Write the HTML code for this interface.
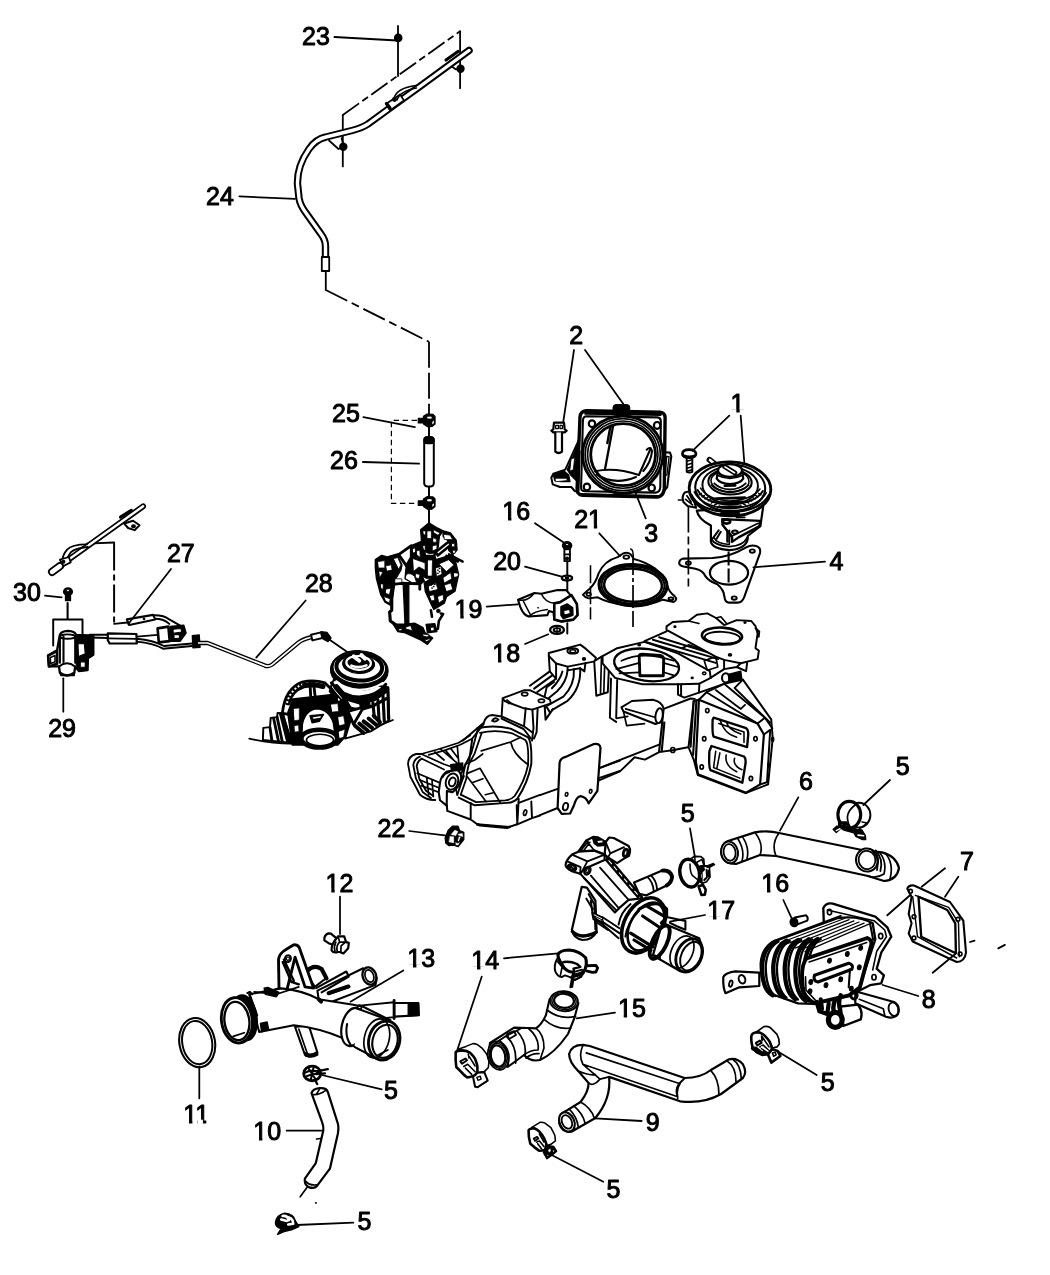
<!DOCTYPE html>
<html><head><meta charset="utf-8"><title>EGR system parts diagram</title>
<style>
html,body{margin:0;padding:0;background:#fff;}
body{width:1050px;height:1275px;overflow:hidden;font-family:"Liberation Sans",sans-serif;}
svg{display:block;}
svg text{font-family:"Liberation Sans",sans-serif;fill:#000;stroke:#000;stroke-width:1.0;}
</style></head><body>
<svg width="1050" height="1275" viewBox="0 0 1050 1275" stroke="#000" fill="none" stroke-linecap="round" stroke-linejoin="round">
<defs><filter id="gs" x="0" y="0" width="100%" height="100%" filterUnits="userSpaceOnUse"><feColorMatrix type="saturate" values="0"/></filter></defs>
<rect x="0" y="0" width="1050" height="1275" fill="#fff" stroke="none"/>
<line x1="398.0" y1="26.0" x2="398.0" y2="76.0" stroke-width="1.82" />
<circle cx="398.2" cy="37.9" r="3.4" stroke-width="1.82" fill="#000"/>
<line x1="342.8" y1="115.0" x2="460.1" y2="31.2" stroke-width="1.82" stroke-dasharray="20 4 7 4" stroke-linecap="butt" />
<line x1="460.1" y1="31.2" x2="460.1" y2="88.3" stroke-width="1.82" />
<circle cx="460.5" cy="68.7" r="3.3" stroke-width="1.82" fill="#000"/>
<line x1="342.8" y1="115.0" x2="342.8" y2="166.4" stroke-width="1.82" />
<circle cx="343.3" cy="146.8" r="3.3" stroke-width="1.82" fill="#000"/>
<path d="M329.0,140.5 L338.5,149.0 L344.0,147.0 L341.5,138.0" stroke-width="1.69" fill="none" />
<path d="M449.0,64.5 L456.0,69.5 L461.0,68.0" stroke-width="1.69" fill="none" />
<path d="M469,50.5 L420.5,86 L392,106.5 L368,124 Q362,128 352,130.5 L326,137 Q316,139 309,149 Q297,166 297.5,184 L299,198 Q300,205 306,213 L321,234 Q325.5,240 325.5,246 L325.5,259" stroke="#000" stroke-width="7.4" fill="none" stroke-linecap="round"/>
<path d="M469,50.5 L420.5,86 L392,106.5 L368,124 Q362,128 352,130.5 L326,137 Q316,139 309,149 Q297,166 297.5,184 L299,198 Q300,205 306,213 L321,234 Q325.5,240 325.5,246 L325.5,259" stroke="#fff" stroke-width="3.4" fill="none" stroke-linecap="round"/>
<rect x="321.8" y="257" width="7.4" height="14" fill="#fff" stroke="#000" stroke-width="1.8"/>
<path d="M386.0,104.0 L390.0,110.5 L404.0,100.5 L400.0,94.5 Z" stroke-width="1.69" fill="#fff" />
<path d="M390,108 L386.5,103.5" stroke-width="3.38" fill="none" />
<path d="M394,98 Q397,88 416,85.5 M397,100 Q400,91 416.5,88" stroke-width="1.56" fill="none" />
<circle cx="394.5" cy="99.5" r="1.8" stroke-width="1.30" fill="#000"/>
<path d="M446,60 L458,51.5" stroke-width="3.12" fill="none" />
<line x1="325.8" y1="271.0" x2="325.8" y2="290.0" stroke-width="1.82" />
<line x1="325.8" y1="290.0" x2="429.0" y2="341.8" stroke-width="1.82" stroke-dasharray="24 5 8 5" stroke-linecap="butt" />
<line x1="429.0" y1="341.8" x2="429.0" y2="414.0" stroke-width="1.82" stroke-dasharray="26 5" stroke-linecap="butt" />
<line x1="429.0" y1="414.0" x2="429.0" y2="523.5" stroke-width="1.95" />
<path d="M423.5,416.4 L427.0,414.1 L433.0,414.4 L435.0,416.4 L435.0,423.9 L432.0,426.4 L428.0,426.9 L423.5,423.9 Z" stroke-width="1.30" fill="#000" />
<path d="M418.2,418.2 L424.0,418.2 L424.0,423.0 L418.2,423.0 Z" stroke-width="1.04" fill="#000" />
<ellipse cx="429.5" cy="417.6" rx="2.6" ry="1.2" stroke-width="0.13" fill="#fff"/>
<path d="M432.2,421.9 L434.0,420.6 L434.0,422.9 L432.2,424.4 Z" stroke-width="0.13" fill="#fff" />
<path d="M423.5,499.0 L427.0,496.7 L433.0,497.0 L435.0,499.0 L435.0,506.5 L432.0,509.0 L428.0,509.5 L423.5,506.5 Z" stroke-width="1.30" fill="#000" />
<path d="M418.2,500.8 L424.0,500.8 L424.0,505.6 L418.2,505.6 Z" stroke-width="1.04" fill="#000" />
<ellipse cx="429.5" cy="500.2" rx="2.6" ry="1.2" stroke-width="0.13" fill="#fff"/>
<path d="M432.2,504.5 L434.0,503.2 L434.0,505.5 L432.2,507.0 Z" stroke-width="0.13" fill="#fff" />
<path d="M417.0,420.4 L391.4,420.4 L391.4,503.3 L417.0,503.3" stroke-width="1.23" fill="none" stroke-dasharray="5.4 3.6" stroke-linecap="butt" />
<rect x="424.2" y="437" width="9.6" height="49.5" rx="3.5" ry="3" fill="#fff" stroke="#000" stroke-width="2"/>
<rect x="424.2" y="437" width="9.6" height="6.5" rx="3" ry="2.5" fill="#000" stroke="#000" stroke-width="1.5"/>
<path d="M 428.8 522.9 L 437.8 528.2 L 450.5 533.0 L 456.3 540.4 L 457.4 550.0 L 454.7 559.5 L 458.5 574.3 L 454.7 591.3 L 446.3 596.6 L 444.2 602.9 L 433.6 609.3 L 431.4 616.7 L 433.6 624.1 L 436.7 631.5 L 432.5 637.9 L 427.2 644.2 L 420.8 640.0 L 405.0 632.6 L 397.5 631.5 L 391.2 620.9 L 390.1 605.0 L 380.6 594.4 L 376.4 578.6 L 375.3 559.5 L 381.7 555.3 L 389.1 557.4 L 398.6 554.7 L 411.3 545.7 L 420.8 541.5 L 420.8 529.8 Z" stroke-width="0.13" fill="#fff" stroke="none"/>
<path d="M 428.8 522.9 L 437.8 528.2 L 443.1 530.9 L 439.4 536.2 L 438.3 546.8 L 434.8 555.5 L 425.1 555.5 L 421.9 546.8 L 420.6 529.8 Z" stroke-width="1.30" fill="#000" />
<path d="M 427.2 530.9 L 431.4 530.9 L 431.4 538.5 L 427.2 538.5 Z" stroke-width="0.78" fill="#fff" />
<path d="M 433.6 529.8 L 440.1 533.0 L 438.0 535.3 L 433.6 532.6 Z" stroke-width="0.78" fill="#fff" />
<path d="M 423.0 530.9 L 425.6 530.9 L 425.6 535.1 L 423.5 534.6 Z" stroke-width="0.78" fill="#fff" />
<path d="M 432.5 545.9 L 436.9 544.7 L 436.9 548.9 L 432.5 551.0 Z" stroke-width="0.78" fill="#fff" />
<path d="M 425.1 552.1 Q 429.3 554.7 433.8 553.1 L 433.8 555.7 L 426.1 555.5 Z" stroke-width="0.78" fill="#fff" />
<path d="M 423.0 545.7 L 425.1 545.2 L 425.3 550.0 L 423.5 550.0 Z" stroke-width="0.78" fill="#fff" />
<path d="M 433.1 537.8 Q 436.7 537.8 436.9 541.5 Q 435.1 543.1 433.0 542.0 Z" stroke-width="0.78" fill="#fff" />
<path d="M 443.1 530.9 L 450.5 533.0 L 456.3 540.4 L 457.1 550.0 L 452.8 554.4 L 448.6 550.2 L 449.1 541.7 L 443.1 536.2 Z" stroke-width="1.30" fill="#000" />
<path d="M 443.6 534.3 L 450.0 535.1 L 452.8 539.6 L 444.7 539.6 Z" stroke-width="0.78" fill="#fff" />
<path d="M 451.6 543.6 L 454.7 543.6 L 454.7 546.8 L 451.8 546.8 Z" stroke-width="0.78" fill="#fff" />
<path d="M 452.6 550.5 L 455.3 550.0 L 455.3 553.1 L 453.2 553.3 Z" stroke-width="0.78" fill="#fff" />
<path d="M 435.7 552.1 L 448.9 541.5 L 450.7 544.9 L 437.8 555.5 Z" stroke-width="2.60" fill="#fff" />
<path d="M 448.9 554.2 L 462.7 561.6 M 446.3 555.8 L 457.9 561.6" stroke-width="2.34" fill="none" />
<path d="M 411.3 545.7 L 420.8 541.5 L 421.9 546.8 L 425.1 555.5 L 434.8 555.5 L 435.9 559.5 L 433.8 576.7 L 427.2 578.8 L 420.8 584.1 L 412.4 583.0 L 405.0 578.8 L 406.2 565.8 L 411.3 557.4 Z" stroke-width="1.30" fill="#000" />
<path d="M 412.9 558.6 L 425.1 562.9 L 425.1 570.3 L 418.9 566.9 L 413.6 571.4 Z" stroke-width="0.78" fill="#fff" />
<path d="M 427.7 560.0 L 432.5 560.0 L 432.1 576.1 L 427.7 576.1 Z" stroke-width="0.78" fill="#fff" />
<path d="M 415.6 573.5 L 420.0 574.5 L 418.9 578.8 L 415.6 577.7 Z" stroke-width="0.78" fill="#fff" />
<path d="M 412.4 548.9 L 415.0 547.8 L 415.6 552.1 L 412.9 553.1 Z" stroke-width="0.78" fill="#fff" />
<path d="M 416.6 551.0 L 419.8 550.0 L 420.3 557.4 L 417.1 555.3 Z" stroke-width="0.78" fill="#fff" />
<path d="M 406.5 574.3 Q 410.3 572.2 414.5 576.4 L 416.6 582.8 L 412.4 582.8 L 405.5 578.6 Z" stroke-width="0.78" fill="#fff" />
<path d="M 423.0 576.4 Q 427.2 580.1 431.4 578.0 L 432.0 581.2 L 425.1 581.7 Z" stroke-width="0.78" fill="#fff" />
<path d="M 435.9 559.5 L 452.8 554.4 L 455.0 559.5 L 458.7 574.3 L 455.0 591.3 L 446.5 596.8 L 444.4 603.1 L 433.8 609.5 L 430.6 603.1 L 425.3 591.5 L 424.2 583.0 L 433.8 576.7 Z" stroke-width="1.30" fill="#000" />
<path d="M 439.1 563.9 L 448.6 559.7 L 453.9 565.0 L 446.5 571.4 Z" stroke-width="0.78" fill="#fff" />
<path d="M 443.1 577.7 L 450.7 572.4 L 451.8 578.8 L 444.4 583.0 Z" stroke-width="0.78" fill="#fff" />
<path d="M 444.4 585.1 L 450.7 583.0 L 452.8 589.4 L 446.5 591.5 Z" stroke-width="0.78" fill="#fff" />
<path d="M 428.5 586.2 L 435.9 583.0 L 438.0 589.4 L 429.5 591.5 Z" stroke-width="0.78" fill="#fff" />
<path d="M 429.5 595.7 L 433.8 594.7 L 434.8 600.0 L 431.7 601.0 Z" stroke-width="0.78" fill="#fff" />
<path d="M 435.7 568.0 L 441.0 566.4 L 442.0 574.3 L 436.7 576.4 Z" stroke-width="0.78" fill="#fff" />
<path d="M 453.7 572.7 L 458.5 573.3 L 457.9 576.4 L 454.2 577.5 Z" stroke-width="0.78" fill="#fff" />
<path d="M 437.8 596.6 L 443.1 594.4 L 443.6 599.7 L 438.9 602.9 Z" stroke-width="0.78" fill="#fff" />
<circle cx="437.8" cy="570.1" r="0.6" stroke-width="0.39" fill="#000"/>
<circle cx="439.4" cy="571.7" r="0.6" stroke-width="0.39" fill="#000"/>
<circle cx="437.8" cy="573.3" r="0.6" stroke-width="0.39" fill="#000"/>
<circle cx="439.4" cy="568.5" r="0.6" stroke-width="0.39" fill="#000"/>
<circle cx="431.4" cy="584.9" r="0.6" stroke-width="0.39" fill="#000"/>
<circle cx="433.6" cy="586.5" r="0.6" stroke-width="0.39" fill="#000"/>
<circle cx="432.0" cy="588.1" r="0.6" stroke-width="0.39" fill="#000"/>
<circle cx="434.6" cy="584.4" r="0.6" stroke-width="0.39" fill="#000"/>
<path d="M 375.3 559.5 L 381.7 555.3 L 389.1 557.4 L 397.8 556.3 L 402.0 564.8 L 400.9 570.1 L 395.6 578.8 L 394.6 585.1 L 393.0 595.7 L 390.3 605.3 L 385.0 602.1 L 380.6 594.4 L 376.4 578.6 L 375.3 568.0 Z" stroke-width="1.30" fill="#000" />
<path d="M 377.9 561.6 L 384.8 560.6 L 384.8 568.0 L 378.5 568.0 Z" stroke-width="0.78" fill="#fff" />
<path d="M 379.0 571.1 L 382.9 572.2 L 379.7 577.7 Z" stroke-width="0.78" fill="#fff" />
<path d="M 393.5 558.6 L 397.8 557.6 L 400.9 564.8 L 398.8 569.2 Z" stroke-width="0.78" fill="#fff" />
<path d="M 385.9 565.8 L 391.2 564.8 L 392.2 570.1 L 386.9 571.1 Z" stroke-width="0.78" fill="#fff" />
<path d="M 385.9 589.2 L 391.2 588.1 L 389.3 594.7 L 385.9 593.4 Z" stroke-width="0.78" fill="#fff" />
<path d="M 383.8 596.6 L 390.1 598.7 L 389.6 602.9 L 385.9 601.3 Z" stroke-width="0.78" fill="#fff" />
<path d="M 380.6 583.9 L 383.2 583.9 L 383.2 589.2 L 381.1 588.6 Z" stroke-width="0.78" fill="#fff" />
<path d="M 395.1 578.8 L 401.8 578.8 L 401.8 583.0 L 395.1 584.1 Z" stroke-width="0.78" fill="#fff" />
<path d="M 398.6 554.7 L 411.3 545.7 L 411.3 557.4 L 406.5 565.8 Z" stroke-width="2.86" fill="#fff" />
<path d="M 389.1 557.4 L 398.6 554.7" stroke-width="3.38" fill="none" />
<path d="M 392.8 584.4 L 401.8 583.3 L 419.8 583.9 L 419.8 589.2" stroke-width="2.86" fill="none" />
<path d="M 391.9 584.9 L 391.7 610.3 L 389.6 611.9 L 390.3 620.9 L 395.4 624.6" stroke-width="3.12" fill="none" />
<path d="M 403.1 582.8 L 408.8 582.8 L 408.8 624.1 L 405.0 624.1 L 404.1 604.0 Z" stroke-width="1.30" fill="#000" />
<path d="M 391.2 620.9 L 395.4 624.1 L 405.0 624.1 L 414.5 623.1 L 423.0 627.5 L 425.1 632.8 L 432.7 638.1 L 427.4 644.4 L 421.1 640.2 L 405.2 632.8 L 397.8 631.7 Z" stroke-width="1.30" fill="#000" />
<path d="M 405.2 627.5 L 410.5 625.4 L 412.6 630.7 L 406.2 629.1 Z" stroke-width="0.78" fill="#fff" />
<path d="M 423.0 633.9 L 429.3 634.9 L 427.4 637.0 L 423.2 636.0 Z" stroke-width="0.78" fill="#fff" />
<path d="M 398.6 628.9 L 401.8 628.6 L 402.0 630.5 L 399.1 630.7 Z" stroke-width="0.78" fill="#fff" />
<path d="M 425.1 640.0 L 430.4 638.4 L 429.3 640.5 L 426.1 641.6 Z" stroke-width="0.78" fill="#fff" />
<path d="M 426.1 624.3 L 434.8 623.7 L 436.9 631.5 L 427.4 632.8 Z" stroke-width="1.30" fill="#000" />
<path d="M 430.6 627.5 L 433.8 627.1 L 434.2 630.5 L 431.2 630.9 Z" stroke-width="0.78" fill="#fff" />
<circle cx="438.3" cy="610.9" r="1.9" stroke-width="0.65" fill="#000"/>
<path d="M 440.8 613.5 L 443.1 614.0 L 438.9 620.9 L 437.8 628.9" stroke-width="2.60" fill="none" />
<path d="M 430.9 610.3 L 432.0 616.7" stroke-width="2.60" fill="none" />
<path d="M 579.3 439.0 L 565.3 469.7 L 553.3 473.7 L 551.3 477.7 L 552.7 484.3 L 560.0 487.0 L 571.3 487.0 L 574.7 491.0 L 578.7 491.7 Z" stroke-width="1.95" fill="#fff" />
<path d="M 577.3 445.7 L 567.3 469.7 L 570.7 475.0 L 576.0 480.3 L 578.0 475.0 Z" stroke-width="1.30" fill="#000" />
<path d="M 553.3 474.3 L 564.0 471.0 L 568.7 475.0 L 570.0 481.7 L 561.3 481.7 L 554.7 480.3 Z" stroke-width="1.30" fill="#000" />
<path d="M 555.3 478.3 L 566.7 478.3 L 567.3 480.6 L 555.7 481.7 Z" stroke-width="0.78" fill="#fff" />
<path d="M 571.3 459.0 L 574.7 457.7 L 573.3 469.7 L 570.0 471.0 Z" stroke-width="0.78" fill="#fff" />
<path d="M 664.7 452.3 L 670.0 452.6 L 671.3 456.3 L 668.7 475.0 L 667.3 487.0 L 664.0 491.0 Z" stroke-width="2.08" fill="#fff" />
<path d="M 666.7 456.3 L 669.1 456.6 L 666.9 475.0 L 665.3 475.0 Z" stroke-width="1.30" fill="none" />
<path d="M 586.0 410.7 L 660.0 412.1 Q 665.1 412.6 665.1 417.7 L 664.3 488.3 Q 663.7 496.1 657.3 497.0 L 582.7 495.3 Q 576.7 494.7 577.1 488.3 L 580.0 417.0 Q 580.7 411.0 586.0 410.7 Z" stroke-width="3.38" fill="#fff" />
<path d="M 585.3 410.7 L 660.7 412.1 L 660.7 415.0 L 585.3 413.9 Z" stroke-width="1.95" fill="#000" />
<path d="M 586.7 416.3 L 657.3 417.4 Q 661.1 417.7 660.8 421.7 L 660.3 487.0 Q 660.0 492.1 655.7 492.6 L 584.7 491.3 Q 580.7 491.0 581.1 487.0 L 582.9 420.3 Q 583.3 416.3 586.7 416.3 Z" stroke-width="2.08" fill="none" />
<path d="M 580.0 493.7 L 657.3 495.7 L 657.3 497.4 L 582.7 495.8 Z" stroke-width="1.30" fill="#000" />
<path d="M 577.1 451.0 L 580.0 451.0 L 578.9 491.0 L 577.1 488.3 Z" stroke-width="1.30" fill="#000" />
<rect x="613" y="404.6" width="16.8" height="7.6" rx="3" fill="#000" stroke="#000" stroke-width="1"/>
<ellipse cx="592.0" cy="423.7" rx="3.2" ry="3.4" stroke-width="2.21" fill="#fff"/>
<ellipse cx="657.1" cy="425.4" rx="3.2" ry="3.4" stroke-width="2.21" fill="#fff"/>
<ellipse cx="586.9" cy="487.0" rx="3.2" ry="3.4" stroke-width="2.21" fill="#fff"/>
<ellipse cx="651.7" cy="487.9" rx="3.2" ry="3.4" stroke-width="2.21" fill="#fff"/>
<ellipse cx="622.8" cy="454.6" rx="40.2" ry="38.6" stroke-width="2.86" fill="#fff"/>
<ellipse cx="622.8" cy="454.6" rx="37.6" ry="36.0" stroke-width="1.82" fill="none"/>
<ellipse cx="622.8" cy="454.6" rx="35.2" ry="33.6" stroke-width="1.56" fill="none"/>
<ellipse cx="623.1" cy="454.6" rx="32.4" ry="31.0" stroke-width="2.86" fill="none"/>
<path d="M 613.1 425.9 L 605.1 468.6 M 610.4 426.5 L 607.3 443.0" stroke-width="2.34" fill="none" />
<path d="M 594.9 471.3 Q 614.7 467.0 638.9 475.0 M 596.7 474.7 Q 614.7 485.7 636.0 477.0 M 638.9 475.0 L 650.7 448.3 M 646.7 449.7 Q 650.7 445.7 652.0 451.0 Q 651.3 461.7 643.3 471.0" stroke-width="2.08" fill="none" />
<path d="M 554.0 422.7 L 564.0 422.7 L 564.7 429.4 L 566.7 430.7 L 564.7 432.3 L 553.3 432.3 L 551.3 430.7 L 553.3 429.4 Z" stroke-width="2.21" fill="#fff" />
<path d="M 555.7 425.4 L 558.4 425.4 L 558.4 428.6 L 555.7 428.6 Z M 560.0 425.4 L 562.4 425.4 L 562.4 428.6 L 560.0 428.6 Z" stroke-width="1.30" fill="none" />
<path d="M 555.3 432.6 L 555.3 451.7 Q 558.7 454.3 562.0 451.7 L 562.0 432.6" stroke-width="2.21" fill="#fff" />
<path d="M 686.7 457.6 L 686.7 471.8 Q 689.5 473.2 692.3 471.8 L 692.3 457.6 Z" stroke-width="1.95" fill="#fff" />
<path d="M 686.9 461.2 L 692.0 459.8 M 686.9 464.7 L 692.0 463.3 M 686.9 468.2 L 692.0 466.8 M 686.9 471.3 L 692.0 469.9" stroke-width="1.69" fill="none" />
<path d="M 682.4 454.1 Q 682.4 449.6 689.1 449.6 Q 695.7 449.6 696.0 454.1 Q 695.7 457.6 689.1 457.6 Q 682.7 457.6 682.4 454.1 Z" stroke-width="2.60" fill="#fff" />
<path d="M 684.1 455.2 Q 689.1 457.6 694.7 455.2" stroke-width="1.56" fill="none" />
<path d="M 679.2 562.8 Q 679.6 559.3 683.4 558.6 L 712.4 558.0 Q 729.3 557.2 746.2 547.3 Q 750.5 544.8 756.1 545.9 Q 761.1 547.3 760.1 552.9 L 754.7 567.8 L 744.1 597.4 Q 742.0 602.6 737.8 602.6 L 728.6 602.6 Q 725.1 602.4 724.4 596.7 Q 723.9 589.7 717.3 584.3 Q 708.8 581.2 705.3 576.2 Q 703.2 570.6 695.4 568.8 L 683.4 566.5 Q 679.2 565.7 679.2 562.8 Z" stroke-width="2.08" fill="#fff" />
<ellipse cx="729.0" cy="572.7" rx="19.1" ry="11.9" stroke-width="2.21" fill="none"/>
<ellipse cx="688.4" cy="563.1" rx="2.4" ry="1.7" stroke-width="1.95" fill="none"/>
<ellipse cx="752.3" cy="551.1" rx="2.5" ry="1.7" stroke-width="1.95" fill="none"/>
<ellipse cx="734.2" cy="598.1" rx="2.5" ry="1.7" stroke-width="1.95" fill="none"/>
<path d="M 688.4 506.4 L 688.4 586.8" stroke-width="1.69" fill="none" stroke-dasharray="26 4 8 4" stroke-linecap="butt" />
<path d="M 696.8 510.6 Q 698.2 519.1 710.9 525.4 L 710.9 541.7 Q 712.4 548.7 729.3 550.1 Q 746.2 548.7 747.7 538.8 L 747.7 536.0 L 760.4 526.1 L 763.2 506.4 Z" stroke-width="2.21" fill="#fff" />
<path d="M 710.9 538.8 Q 715.2 545.9 729.3 546.6 Q 743.4 545.9 747.4 537.4" stroke-width="1.82" fill="none" />
<path d="M 713.8 537.4 Q 716.6 543.8 729.3 544.5" stroke-width="1.56" fill="none" />
<path d="M 722.2 519.1 L 760.4 520.8 L 759.2 526.4 L 738.5 537.4 L 732.1 541.9 L 732.1 537.4 L 722.5 524.7 Z" stroke-width="2.34" fill="#fff" />
<path d="M 722.5 524.7 L 732.1 536.0 L 758.2 523.3" stroke-width="1.69" fill="none" />
<path d="M 718.7 530.4 L 712.4 538.8 M 720.8 531.8 L 716.6 538.8 M 727.2 531.8 L 727.2 541.7 M 729.3 530.4 L 729.3 543.1" stroke-width="1.95" fill="none" />
<ellipse cx="726.5" cy="521.6" rx="3.7" ry="2.0" stroke-width="2.60" fill="none"/>
<ellipse cx="734.9" cy="532.1" rx="2.8" ry="1.6" stroke-width="2.08" fill="none"/>
<path d="M 726.5 513.4 L 736.4 513.4 L 736.4 515.5 L 726.5 515.5 Z" stroke-width="1.30" fill="#000" />
<path d="M 736.4 517.4 L 744.8 517.4" stroke-width="1.56" fill="none" />
<path d="M 691.2 490.8 L 684.8 492.5 Q 681.3 496.5 683.4 502.1 L 687.6 506.1 L 696.1 507.8 Z" stroke-width="2.08" fill="#fff" />
<path d="M 686.9 495.8 L 691.2 502.1 M 685.5 499.3 L 692.6 504.9 M 678.5 500.0 L 681.3 500.0" stroke-width="1.69" fill="none" />
<path d="M 709.5 459.8 L 717.3 466.1" stroke-width="5.85" fill="none" />
<path d="M 710.0 460.0 L 716.9 465.7" stroke-width="2.60" fill="none" stroke="#fff"/>
<ellipse cx="730.0" cy="488.9" rx="40.8" ry="27.0" stroke-width="2.86" fill="#fff" transform="rotate(2 730.0 488.9)"/>
<ellipse cx="730.2" cy="487.7" rx="35.0" ry="23.4" stroke-width="2.08" fill="none" transform="rotate(2 730.2 487.7)"/>
<ellipse cx="730.2" cy="485.4" rx="27.8" ry="18.3" stroke-width="1.95" fill="none" transform="rotate(2 730.2 485.4)"/>
<path d="M 691.4 494.8 Q 699.0 511.0 730.0 512.4 Q 761.0 511.0 769.0 494.8" stroke-width="2.08" fill="none" />
<path d="M 694.3 491.9 Q 701.9 507.1 730.0 508.6 Q 758.1 507.1 766.2 492.9" stroke-width="1.69" fill="none" />
<path d="M 697.6 490.0 Q 704.8 503.3 730.0 504.8 Q 755.2 503.3 762.9 491.0" stroke-width="1.95" fill="none" />
<path d="M 700.5 488.1 Q 708.6 500.0 730.0 501.0 Q 751.4 500.0 760.0 489.0" stroke-width="1.56" fill="none" />
<path d="M 716.2 498.6 L 744.8 497.6 M 718.1 502.9 L 742.9 501.9 M 721.0 507.1 L 741.0 506.7" stroke-width="2.60" fill="none" />
<path d="M 721.9 514.0 L 738.1 513.6" stroke-width="3.90" fill="none" />
<path d="M 699.0 494.8 L 701.4 493.3" stroke-width="1.43" fill="none" />
<path d="M 761.0 494.8 L 758.6 493.3" stroke-width="1.43" fill="none" />
<path d="M 702.1 496.9 L 704.5 495.4" stroke-width="1.43" fill="none" />
<path d="M 757.9 496.9 L 755.5 495.4" stroke-width="1.43" fill="none" />
<path d="M 705.1 499.0 L 707.5 497.5" stroke-width="1.43" fill="none" />
<path d="M 754.9 499.0 L 752.5 497.5" stroke-width="1.43" fill="none" />
<path d="M 708.2 501.0 L 710.6 499.6" stroke-width="1.43" fill="none" />
<path d="M 751.8 501.0 L 749.4 499.6" stroke-width="1.43" fill="none" />
<path d="M 711.2 503.1 L 713.6 501.7" stroke-width="1.43" fill="none" />
<path d="M 748.8 503.1 L 746.4 501.7" stroke-width="1.43" fill="none" />
<path d="M 714.3 505.2 L 716.7 503.8" stroke-width="1.43" fill="none" />
<path d="M 745.7 505.2 L 743.3 503.8" stroke-width="1.43" fill="none" />
<path d="M 717.3 507.3 L 719.7 505.9" stroke-width="1.43" fill="none" />
<path d="M 742.7 507.3 L 740.3 505.9" stroke-width="1.43" fill="none" />
<ellipse cx="730.0" cy="481.9" rx="21.7" ry="12.6" stroke-width="2.08" fill="#fff" transform="rotate(2 730.0 481.9)"/>
<ellipse cx="730.0" cy="481.0" rx="19.0" ry="10.7" stroke-width="1.56" fill="none" transform="rotate(2 730.0 481.0)"/>
<path d="M 711.4 485.2 Q 718.1 491.9 730.0 492.4 Q 741.9 491.9 748.6 485.2 M 714.3 483.3 Q 720.0 489.0 730.0 489.5 Q 740.0 489.0 745.7 483.3" stroke-width="1.82" fill="none" />
<path d="M 724.8 485.7 L 735.2 485.4" stroke-width="2.60" fill="none" />
<path d="M 718.1 470.5 L 716.7 478.6 Q 720.0 483.8 730.0 484.1 Q 740.0 483.8 743.3 478.6 L 741.9 470.5 Z" stroke-width="2.21" fill="#fff" />
<path d="M 717.3 475.2 Q 730.0 481.4 742.7 475.2" stroke-width="1.69" fill="none" />
<ellipse cx="730.0" cy="470.5" rx="12.1" ry="6.3" stroke-width="2.34" fill="#fff"/>
<path d="M 724.8 466.7 L 734.8 472.9" stroke-width="4.94" fill="none" />
<path d="M 725.0 466.9 L 734.5 472.7" stroke-width="1.69" fill="none" stroke="#fff"/>
<path d="M 728.6 551.5 L 728.6 582.6" stroke-width="2.08" fill="none" stroke-dasharray="14 3" stroke-linecap="butt" />
<path d="M 567.3 561.7 L 567.3 604.2 M 567.3 623.2 L 567.3 633.5" stroke-width="1.95" fill="none" />
<path d="M 564.4 549.0 L 564.4 561.1 L 569.9 561.1 L 569.9 549.0 Z" stroke-width="1.95" fill="#fff" />
<path d="M 564.4 554.4 L 569.9 554.4" stroke-width="1.56" fill="none" />
<ellipse cx="567.0" cy="558.6" rx="1.4" ry="1.4" stroke-width="1.30" fill="#000"/>
<ellipse cx="567.1" cy="545.6" rx="4.3" ry="3.6" stroke-width="1.95" fill="#000"/>
<ellipse cx="567.1" cy="544.5" rx="1.8" ry="1.1" stroke-width="1.04" fill="#fff"/>
<ellipse cx="567.0" cy="578.1" rx="5.1" ry="2.4" stroke-width="2.34" fill="#fff"/>
<ellipse cx="567.0" cy="578.1" rx="1.6" ry="0.7" stroke-width="1.69" fill="none"/>
<path d="M 518.1 599.7 L 534.4 593.0 L 541.3 593.7 L 557.5 590.1 L 566.1 590.1 L 570.6 595.1 L 576.9 604.2 L 577.5 615.1 L 573.3 619.6 L 561.5 621.4 L 554.3 619.6 L 553.4 612.3 L 548.9 611.1 L 547.4 615.1 L 529.0 616.5 Q 521.7 615.1 518.1 599.7 Z" stroke-width="2.08" fill="#fff" />
<path d="M 518.1 599.7 Q 527.1 602.4 534.4 593.0 M 541.3 593.7 Q 545.2 602.4 554.3 603.3 L 566.1 600.6 M 529.0 616.5 Q 533.5 611.4 547.4 609.6 M 523.5 601.5 L 531.1 616.1" stroke-width="1.56" fill="none" />
<path d="M 554.3 603.3 L 559.7 602.4 L 571.5 595.1 L 576.9 604.2 L 577.5 615.1 L 573.3 619.6 L 561.5 621.4 L 554.3 619.6 Z" stroke-width="2.60" fill="#fff" />
<path d="M 561.2 606.9 L 567.3 604.2 L 572.4 607.8 L 572.7 615.1 L 563.3 618.3 L 561.2 615.1 Z" stroke-width="1.95" fill="#000" />
<path d="M 563.7 610.5 L 569.7 609.6 L 570.2 613.6 L 564.2 615.1 Z" stroke-width="1.04" fill="#fff" />
<ellipse cx="538.0" cy="607.8" rx="0.5" ry="0.5" stroke-width="0.65" fill="#000"/>
<ellipse cx="557.0" cy="629.9" rx="6.9" ry="4.0" stroke-width="2.34" fill="#fff"/>
<ellipse cx="557.0" cy="629.9" rx="3.3" ry="1.8" stroke-width="1.95" fill="none"/>
<path d="M 557.0 626.8 L 557.0 633.1" stroke-width="1.30" fill="none" />
<path d="M 582.9 594.8 L 590.5 587.9 Q 595.9 582.5 598.6 573.4 Q 604.1 560.8 617.6 557.1 L 623.1 553.5 Q 627.6 551.7 630.7 554.4 L 633.9 559.0 Q 644.8 561.7 655.6 568.9 Q 664.7 576.1 667.4 586.1 Q 669.2 592.4 674.6 596.1 Q 678.2 599.7 673.7 602.0 L 662.9 599.7 Q 644.8 607.8 626.7 605.1 Q 608.6 603.3 597.7 597.3 L 588.7 598.4 Q 585.1 597.9 582.9 594.8 Z" stroke-width="1.95" fill="#fff" />
<ellipse cx="633.0" cy="585.2" rx="34.0" ry="20.6" stroke-width="3.12" fill="#fff" transform="rotate(2 633.0 585.2)"/>
<ellipse cx="633.0" cy="585.2" rx="31.5" ry="18.6" stroke-width="1.95" fill="none" transform="rotate(2 633.0 585.2)"/>
<ellipse cx="633.0" cy="585.2" rx="29.0" ry="16.6" stroke-width="2.60" fill="none" transform="rotate(2 633.0 585.2)"/>
<ellipse cx="626.3" cy="557.1" rx="2.9" ry="1.8" stroke-width="1.82" fill="none"/>
<ellipse cx="671.0" cy="598.8" rx="2.5" ry="1.4" stroke-width="1.82" fill="none"/>
<ellipse cx="588.7" cy="594.2" rx="2.2" ry="1.6" stroke-width="1.82" fill="none"/>
<path d="M 630.7 549.0 Q 633.9 549.9 633.0 559.0" stroke-width="1.56" fill="none" />
<path d="M 633.0 559.0 L 633.0 629.5" stroke-width="1.69" fill="none" stroke-dasharray="16 3 4 3" stroke-linecap="butt" />
<path d="M 590.5 565.3 L 590.5 619.6" stroke-width="1.56" fill="none" stroke-dasharray="18 3" stroke-linecap="butt" />
<path d="M 408.4 765.7 L 414.7 755.7 L 425.1 754.2 L 462.9 740.6 L 483.8 723.8 L 492.2 715.4 L 501.6 716.5 L 502.7 698.7 L 523.6 690.3 L 530.9 687.1 L 549.2 673.5 L 548.8 653.0 L 580.2 644.6 L 595.9 657.8 L 609.5 661.0 L 617.9 658.9 L 620.0 757.3 L 620.0 770.9 L 598.0 779.3 L 596.9 790.8 L 588.6 803.4 L 569.7 813.9 L 561.3 813.9 L 557.1 807.6 L 533.0 816.4 L 518.4 824.8 L 508.9 826.9 L 476.5 824.4 L 448.2 810.8 L 447.1 795.0 L 431.4 801.3 L 416.8 786.7 Z" stroke-width="0.13" fill="#fff" stroke="none"/>
<path d="M 548.8 653.0 L 580.2 644.6 L 585.4 648.4 L 595.9 657.8 L 594.8 661.4 L 567.6 666.6 L 556.1 663.5 L 548.8 655.9 Z" stroke-width="1.95" fill="#fff" />
<path d="M 548.8 655.9 L 549.8 671.4 L 556.1 678.8 L 556.1 663.5 M 567.6 666.6 L 567.6 670.4 L 580.2 668.3 L 584.4 671.4 L 585.4 663.0" stroke-width="1.95" fill="none" />
<ellipse cx="572.8" cy="650.9" rx="5.4" ry="2.7" stroke-width="1.95" fill="none"/>
<ellipse cx="572.8" cy="651.3" rx="2.9" ry="1.5" stroke-width="1.56" fill="none"/>
<ellipse cx="584.0" cy="658.9" rx="1.5" ry="1.3" stroke-width="1.30" fill="#000"/>
<path d="M 580.2 668.3 Q 581.2 688.2 567.6 700.8 L 551.9 710.2 M 573.9 669.3 Q 574.9 685.0 563.4 696.6 L 547.7 705.4 M 567.6 670.4 Q 566.6 681.9 557.1 691.3 L 546.7 699.7 M 562.4 671.4 Q 560.3 679.8 551.9 688.2" stroke-width="1.95" fill="none" />
<path d="M 549.8 671.4 L 529.9 685.7 M 556.1 678.8 L 537.2 692.0 M 551.9 675.6 L 534.1 688.6 M 554.0 681.9 L 546.7 687.1 L 544.6 696.6" stroke-width="1.95" fill="none" />
<path d="M 544.6 704.9 L 545.6 719.6 L 552.9 709.1 M 546.7 707.0 L 549.8 712.3" stroke-width="2.08" fill="none" />
<path d="M 502.7 698.2 L 523.6 690.3 L 530.3 690.3 L 550.0 699.7 L 550.8 703.3 L 532.4 709.6 L 524.0 708.3 L 504.8 701.2 Z" stroke-width="1.95" fill="#fff" />
<ellipse cx="524.7" cy="694.1" rx="3.1" ry="1.7" stroke-width="1.69" fill="none"/>
<ellipse cx="541.4" cy="700.8" rx="3.1" ry="1.7" stroke-width="1.69" fill="none"/>
<path d="M 506.9 699.7 L 511.0 702.9 M 505.8 700.8 L 508.9 703.9" stroke-width="1.30" fill="none" />
<path d="M 502.7 698.7 L 501.6 716.5 L 524.0 726.3 L 525.7 708.3 M 532.4 709.6 L 533.5 728.0 L 532.0 740.6 M 537.6 708.7 L 536.6 732.2 L 534.1 738.5 M 524.0 726.3 L 532.0 732.2" stroke-width="1.95" fill="none" />
<path d="M 501.6 716.5 L 492.2 715.0 Q 485.9 715.4 483.8 722.8 L 462.9 740.6 M 492.2 720.7 Q 495.3 716.5 498.5 719.6 Q 495.3 722.8 492.2 720.7 M 501.6 718.6 L 523.6 729.0 L 530.9 738.5 M 483.8 723.8 L 472.3 738.5 L 469.1 761.5" stroke-width="1.95" fill="none" />
<path d="M 477.3 728.3 Q 493.3 724.7 510.7 728.7 L 528.0 737.3 Q 532.0 741.3 531.3 764.0 Q 528.0 782.7 517.3 798.7 Q 513.3 802.7 506.7 802.9 L 474.7 805.3 L 458.7 797.6" stroke-width="1.95" fill="none" />
<path d="M 480.0 732.8 Q 496.0 729.1 512.0 733.3 L 525.3 740.0 Q 529.1 744.0 528.0 765.3 Q 524.7 781.3 514.7 796.0 Q 511.3 799.7 505.3 800.3 L 476.0 802.1 L 461.3 794.9" stroke-width="1.82" fill="none" />
<path d="M 478.0 728.7 L 471.3 753.3 L 465.6 764.0 Q 463.3 773.3 462.7 778.7 L 457.3 794.9 M 481.6 733.3 L 474.7 753.3 L 468.7 764.7 Q 466.7 773.3 466.3 778.7 L 460.7 794.7" stroke-width="1.82" fill="none" />
<path d="M 481.3 750.9 L 510.7 742.0 L 520.7 737.3 M 510.7 742.0 Q 513.3 754.7 528.3 764.7 M 465.6 764.0 L 474.7 760.0 L 482.7 754.0 M 466.7 773.6 L 480.0 768.3 L 500.3 802.7 M 472.0 782.7 L 482.9 778.7 M 467.3 776.7 L 486.0 801.6 M 485.3 794.7 L 493.3 792.7" stroke-width="1.69" fill="none" />
<path d="M 408.0 764.0 Q 408.3 756.0 416.0 754.0 L 421.3 754.0 M 408.0 764.0 L 410.4 776.7 L 420.0 794.7 Q 426.7 800.3 435.3 800.0 M 413.3 765.3 Q 414.0 758.7 420.0 756.7 M 413.3 765.3 L 416.0 778.7 L 422.9 792.3 L 430.9 798.1 M 416.7 766.0 Q 417.6 760.7 422.0 758.7 M 416.7 766.0 L 419.3 778.7 L 426.0 790.7 L 433.3 796.0" stroke-width="1.82" fill="none" />
<path d="M 421.3 754.0 L 444.0 764.3 L 453.6 767.5 M 422.0 758.7 L 444.0 769.6 M 417.3 773.3 L 440.0 782.9 M 420.0 780.0 L 440.0 788.3 M 421.3 785.6 L 438.7 792.3 M 426.7 777.3 L 428.7 794.7 M 432.0 780.0 L 433.3 796.7" stroke-width="1.69" fill="none" />
<path d="M 421.3 754.0 L 440.0 748.7 L 458.7 742.7 L 470.3 735.3 M 428.7 754.9 L 445.3 750.1 L 460.3 744.8 L 472.0 738.7 M 440.0 748.7 L 458.7 764.3 M 445.3 750.1 L 453.6 760.0 M 450.9 748.7 L 457.6 757.6 M 457.3 746.1 L 458.9 764.3 M 434.7 752.0 L 444.0 760.0" stroke-width="1.69" fill="none" />
<path d="M 450.7 764.7 L 462.7 762.9 L 462.9 769.6 L 456.0 771.3 L 451.3 769.6 Z" stroke-width="1.30" fill="#000" />
<path d="M 440.0 782.9 Q 440.7 776.0 446.7 771.6 L 456.0 770.1 Q 461.6 771.3 461.1 778.7 Q 460.0 786.7 452.3 792.3 L 446.9 790.9 L 446.7 805.6 L 440.0 800.3 L 438.7 792.3 Z" stroke-width="2.08" fill="#fff" />
<ellipse cx="452.0" cy="781.6" rx="6.1" ry="8.3" stroke-width="1.95" fill="none" transform="rotate(18 452.0 781.6)"/>
<ellipse cx="452.3" cy="781.9" rx="3.2" ry="4.5" stroke-width="1.95" fill="none" transform="rotate(18 452.3 781.9)"/>
<path d="M 442.7 777.3 Q 444.7 773.3 449.3 772.3" stroke-width="1.56" fill="none" />
<path d="M 461.3 773.3 L 465.6 764.0 M 460.7 782.7 L 464.0 776.0 M 456.0 789.3 L 457.3 794.9" stroke-width="1.82" fill="none" />
<path d="M 446.7 805.3 L 447.3 810.9 L 470.7 819.5 L 477.3 824.3 L 509.3 826.9 L 517.3 824.3 L 518.7 798.9 M 470.7 802.9 L 470.7 819.5 M 516.7 805.3 L 517.3 824.3 M 447.3 810.9 L 446.9 805.3" stroke-width="1.95" fill="none" />
<path d="M 477.3 824.3 L 480.0 825.3 L 506.7 827.7 L 509.6 826.9" stroke-width="2.60" fill="none" />
<path d="M 518.7 802.9 L 540.0 794.9 M 517.3 824.3 L 532.0 818.1 L 531.3 801.6 M 532.0 818.1 L 540.0 815.5" stroke-width="1.95" fill="none" />
<ellipse cx="525.1" cy="812.7" rx="1.5" ry="2.8" stroke-width="1.69" fill="none" transform="rotate(15 525.1 812.7)"/>
<path d="M 540.0 795.2 L 557.6 788.8 M 540.0 815.2 L 557.6 808.0" stroke-width="1.95" fill="none" />
<path d="M 559.6 762.6 Q 560.3 758.4 565.5 756.9 L 593.8 744.1 Q 600.1 743.1 600.5 747.9 L 597.4 790.8 L 588.6 803.4 Q 586.5 797.1 580.6 796.1 Q 576.0 797.1 573.9 805.5 L 570.1 813.5 L 561.7 813.9 L 557.6 808.0 Z" stroke-width="2.21" fill="#fff" />
<ellipse cx="566.6" cy="794.4" rx="1.3" ry="1.9" stroke-width="1.56" fill="none" transform="rotate(15 566.6 794.4)"/>
<ellipse cx="590.7" cy="791.3" rx="1.3" ry="1.9" stroke-width="1.56" fill="none" transform="rotate(15 590.7 791.3)"/>
<ellipse cx="565.5" cy="806.6" rx="2.5" ry="3.8" stroke-width="1.82" fill="none" transform="rotate(15 565.5 806.6)"/>
<path d="M 600.1 767.8 L 620.0 760.5 M 598.0 778.3 L 620.0 770.9" stroke-width="1.95" fill="none" />
<path d="M 598.4 780.6 L 620.0 771.4 L 634.6 757.3 L 644.9 759.6 L 659.1 752.1 L 673.8 750.0 L 690.6 746.7 M 600.5 767.6 L 659.1 744.6" stroke-width="1.95" fill="none" />
<ellipse cx="672.8" cy="750.0" rx="2.1" ry="2.5" stroke-width="1.69" fill="none"/>
<path d="M 594.2 661.2 L 601.5 656.6 L 609.3 660.1 L 607.8 692.2 L 596.3 695.7 Z" stroke-width="1.95" fill="#fff" />
<path d="M 601.5 656.6 L 600.5 693.2 M 604.7 662.9 L 603.8 692.6" stroke-width="1.69" fill="none" />
<path d="M 602.6 656.1 L 617.2 648.2 L 644.5 641.9 L 678.0 653.4 L 709.8 671.2 L 710.7 677.9 L 698.9 683.8 L 678.0 684.2 L 642.4 684.2 L 615.1 677.9 L 602.6 663.3 Z" stroke-width="1.95" fill="#fff" />
<ellipse cx="646.6" cy="664.9" rx="32.7" ry="15.9" stroke-width="2.34" fill="none" transform="rotate(8 646.6 664.9)"/>
<path d="M 639.2 656.1 Q 639.2 654.1 642.4 654.1 L 660.2 655.5 Q 663.7 656.1 663.7 659.7 L 663.3 675.8 L 639.9 675.8 Z" stroke-width="2.86" fill="#fff" />
<path d="M 616.2 669.1 L 639.2 662.9 M 619.3 673.3 L 639.4 672.3 M 663.3 662.9 L 678.0 667.0 M 663.7 672.3 L 673.8 675.4 M 621.4 660.8 Q 642.4 650.3 673.8 660.8" stroke-width="1.69" fill="none" />
<ellipse cx="639.2" cy="645.0" rx="1.3" ry="0.8" stroke-width="1.30" fill="#000"/>
<ellipse cx="704.2" cy="673.3" rx="1.7" ry="1.3" stroke-width="1.56" fill="none"/>
<ellipse cx="692.2" cy="677.9" rx="1.0" ry="0.8" stroke-width="1.30" fill="#000"/>
<path d="M 611.0 678.6 L 609.9 717.7 L 616.2 721.9 M 617.2 680.0 L 616.2 717.3 M 678.0 684.2 L 678.0 694.7 L 684.3 697.6 L 698.9 692.6 L 699.4 683.8 M 681.1 684.9 L 681.1 694.7" stroke-width="1.95" fill="none" />
<path d="M 621.4 707.3 L 631.9 701.0 L 652.9 699.7 Q 662.3 701.6 663.7 708.9 L 662.3 721.9 L 655.4 724.0 L 623.5 711.5 Z" stroke-width="1.95" fill="#fff" />
<ellipse cx="659.1" cy="715.7" rx="3.6" ry="7.5" stroke-width="1.95" fill="#fff" transform="rotate(8 659.1 715.7)"/>
<path d="M 623.5 711.5 L 626.7 725.7 L 644.5 723.6 M 616.2 718.4 L 627.7 716.3 M 625.6 708.9 L 654.9 717.3" stroke-width="1.69" fill="none" />
<path d="M 662.3 721.9 L 659.1 751.3 M 664.4 722.6 L 661.7 751.3" stroke-width="2.08" fill="none" />
<path d="M 663.7 708.9 L 690.6 698.5 L 694.8 698.9" stroke-width="1.95" fill="none" />
<path d="M 644.5 641.1 L 666.5 631.4 M 646.6 642.3 L 715.7 662.9 M 652.9 639.8 L 718.2 659.1 M 659.1 637.3 L 715.7 654.9 M 682.2 648.2 L 688.5 645.0 L 707.3 651.3 M 710.5 677.9 L 724.1 669.1 M 698.9 692.6 L 724.1 683.8" stroke-width="1.95" fill="none" />
<path d="M 704.2 660.8 L 715.7 656.6 L 717.8 667.0 L 707.3 670.2 Z" stroke-width="1.69" fill="none" />
<path d="M 666.5 626.4 L 672.8 622.0 L 688.5 621.0 L 696.9 614.7 L 707.3 613.4 L 716.1 618.0 L 724.1 625.1 L 736.7 620.1 L 751.3 621.0 L 755.5 626.2 L 757.6 633.5 L 755.5 648.2 L 758.9 650.7 L 757.6 659.1 L 740.8 663.3 L 724.1 659.9 L 715.7 656.6 L 666.5 629.8 Z" stroke-width="1.95" fill="#fff" />
<path d="M 688.5 621.0 L 698.9 623.5 M 715.7 618.0 L 720.9 616.8 L 726.2 623.0" stroke-width="1.69" fill="none" />
<ellipse cx="722.0" cy="636.0" rx="20.1" ry="8.4" stroke-width="2.60" fill="none" transform="rotate(3 722.0 636.0)"/>
<ellipse cx="722.4" cy="637.7" rx="17.6" ry="5.9" stroke-width="1.82" fill="none" transform="rotate(3 722.4 637.7)"/>
<ellipse cx="674.9" cy="626.8" rx="1.0" ry="0.8" stroke-width="1.30" fill="#000"/>
<ellipse cx="745.0" cy="622.6" rx="1.0" ry="0.8" stroke-width="1.30" fill="#000"/>
<ellipse cx="730.0" cy="654.9" rx="1.5" ry="1.0" stroke-width="1.56" fill="none"/>
<path d="M 755.5 628.3 L 759.3 631.4 L 758.7 636.7 M 724.1 659.9 L 724.1 669.1 L 736.7 667.0 L 740.8 663.3 M 736.7 667.0 L 746.1 671.2 L 747.1 662.9" stroke-width="1.95" fill="none" />
<ellipse cx="725.8" cy="677.9" rx="3.8" ry="4.6" stroke-width="2.08" fill="#fff"/>
<path d="M 728.3 674.4 L 740.8 671.2 L 741.9 679.6 L 729.3 682.8 Z" stroke-width="1.30" fill="#000" />
<path d="M 698.9 699.7 L 706.5 692.2 L 724.1 683.8 L 742.9 679.6 L 771.2 719.4 L 772.7 738.3 L 768.1 784.4 L 745.5 793.2 L 697.9 775.2 L 693.7 759.6 L 688.5 747.1 L 693.7 701.0 Z" stroke-width="1.95" fill="#fff" />
<path d="M 698.9 699.7 L 757.6 723.6 L 763.9 734.5 L 760.1 784.4 L 746.1 792.8 L 697.9 774.3 L 695.8 761.3 Z" stroke-width="2.21" fill="none" />
<path d="M 693.7 701.0 L 690.6 746.7 M 696.4 700.6 L 693.1 755.0" stroke-width="2.08" fill="none" />
<path d="M 757.6 723.6 L 764.9 717.7 L 772.3 728.2 M 763.9 734.5 L 770.2 729.9 L 767.0 782.3 L 760.1 784.4" stroke-width="1.95" fill="none" />
<path d="M 706.5 692.2 L 757.6 723.6 M 724.1 683.8 L 764.9 717.7 M 734.6 688.0 L 770.2 722.6 M 742.9 679.6 L 734.6 688.0 M 715.7 690.1 L 740.8 708.9 L 745.0 704.8" stroke-width="1.82" fill="none" />
<path d="M 713.6 717.7 L 746.1 728.2 Q 748.6 729.9 748.2 735.1 L 747.1 747.1 L 713.6 736.6 Q 712.1 734.1 712.6 719.8 Z" stroke-width="2.34" fill="none" />
<path d="M 718.8 723.6 L 744.0 732.0 L 744.0 742.5 M 719.9 719.4 Q 724.1 734.1 736.7 737.2 M 726.2 721.5 Q 728.3 729.9 740.8 734.1" stroke-width="1.56" fill="none" />
<path d="M 711.5 746.0 L 744.0 756.5 Q 746.1 758.2 745.5 763.8 L 742.3 782.7 L 710.5 770.1 Q 708.6 767.6 709.4 751.3 Z" stroke-width="2.34" fill="none" />
<path d="M 715.7 751.3 L 713.6 767.6 L 739.8 778.1 M 719.9 752.9 L 716.8 768.7 M 726.2 755.0 Q 724.1 765.5 736.7 771.8 M 734.6 758.2 Q 732.5 765.5 741.9 769.7" stroke-width="1.56" fill="none" />
<ellipse cx="707.3" cy="710.6" rx="1.7" ry="2.1" stroke-width="1.69" fill="none"/>
<ellipse cx="704.2" cy="738.7" rx="1.7" ry="2.1" stroke-width="1.69" fill="none"/>
<ellipse cx="755.5" cy="738.7" rx="1.7" ry="2.1" stroke-width="1.69" fill="none"/>
<ellipse cx="701.7" cy="767.0" rx="1.7" ry="2.1" stroke-width="1.69" fill="none"/>
<ellipse cx="750.9" cy="778.5" rx="1.7" ry="2.1" stroke-width="1.69" fill="none"/>
<ellipse cx="772.7" cy="739.3" rx="1.0" ry="2.1" stroke-width="1.56" fill="none"/>
<ellipse cx="768.5" cy="765.5" rx="0.8" ry="2.1" stroke-width="1.56" fill="none"/>
<path d="M 87.0 543.7 L 114.1 542.5" stroke-width="1.82" fill="none" />
<path d="M 114.1 542.5 L 114.1 623.9" stroke-width="1.95" fill="none" stroke-dasharray="28 4 6 4" stroke-linecap="butt" />
<path d="M 114.1 623.9 L 127.7 622.5" stroke-width="1.82" fill="none" />
<path d="M 52.6 571.1 L 143.1 506.3" stroke="#000" stroke-width="5.8" fill="none" stroke-linecap="round"/>
<path d="M 52.6 571.1 L 143.1 506.3" stroke="#fff" stroke-width="2.4" fill="none" stroke-linecap="round"/>
<path d="M 120.5 517.1 L 131.3 510.3" stroke-width="3.12" fill="none" />
<path d="M 52.1 571.8 L 59.9 566.2" stroke="#000" stroke-width="8.2" fill="none" stroke-linecap="round"/>
<path d="M 52.1 571.8 L 59.9 566.2" stroke="#fff" stroke-width="4.6" fill="none" stroke-linecap="round"/>
<path d="M 124.1 523.5 L 133.1 520.8 L 139.5 525.3 L 134.6 530.2 L 128.1 528.0 Z" stroke-width="1.95" fill="#fff" />
<ellipse cx="133.5" cy="526.2" rx="1.8" ry="1.4" stroke-width="1.30" fill="#000"/>
<path d="M 87.0 544.3 Q 71.6 544.3 67.1 549.7 Q 62.6 555.1 62.6 559.7 M 87.9 547.0 Q 75.2 547.9 70.7 552.4 L 66.2 559.7" stroke-width="1.82" fill="none" />
<path d="M 59.9 559.7 L 68.9 557.0 L 70.7 562.4 L 63.5 566.0 Z" stroke-width="1.82" fill="#fff" />
<ellipse cx="63.5" cy="561.8" rx="1.3" ry="1.3" stroke-width="1.30" fill="#000"/>
<path d="M 126.8 619.4 L 153.1 614.9 L 155.2 619.4 L 129.2 625.0 Z" stroke-width="2.08" fill="#fff" />
<ellipse cx="144.0" cy="618.8" rx="0.9" ry="0.9" stroke-width="1.04" fill="#000"/>
<path d="M 153.1 615.2 Q 163.9 614.9 169.3 619.4 L 180.2 625.7 M 154.9 618.8 Q 163.9 618.8 169.3 623.9" stroke-width="1.95" fill="none" />
<path d="M 157.6 628.4 L 168.4 626.6 L 169.7 641.1 L 158.8 642.4 Z" stroke-width="2.60" fill="#fff" />
<path d="M 170.2 626.6 L 183.8 625.4 L 186.0 633.0 L 180.2 641.1 L 171.2 641.1 Z" stroke-width="1.56" fill="#000" />
<path d="M 173.0 629.3 L 181.1 628.4 L 181.6 632.1 L 173.3 633.3 Z" stroke-width="1.04" fill="#fff" />
<path d="M 173.9 634.8 L 179.3 634.4 L 179.5 638.0 L 174.2 638.8 Z" stroke-width="1.04" fill="#fff" />
<path d="M 89.7 634.8 L 107.8 634.8 M 89.7 637.5 L 107.8 638.0" stroke-width="1.95" fill="none" />
<path d="M 107.8 633.3 L 136.4 634.0 L 136.8 643.5 L 109.6 643.5 L 107.8 640.2 Z" stroke-width="2.21" fill="#fff" />
<path d="M 108.2 638.4 L 136.4 638.8" stroke-width="1.69" fill="none" />
<path d="M 136.8 638.8 Q 153.1 640.2 163.9 646.0 L 192.0 643.5 M 136.8 641.6 Q 153.1 642.9 163.0 648.7 L 192.0 646.0" stroke-width="1.95" fill="none" />
<path d="M 136.8 636.6 L 157.6 634.8" stroke-width="1.69" fill="none" />
<path d="M 192.3 635.7 L 199.2 634.8 L 200.1 647.4 L 192.9 647.8 Z" stroke-width="1.30" fill="#000" />
<path d="M 65.5 595.0 L 65.5 600.7 L 70.5 600.7 L 70.5 595.0 Z" stroke-width="1.30" fill="#000" />
<ellipse cx="68.0" cy="591.7" rx="4.3" ry="3.6" stroke-width="1.56" fill="#000"/>
<ellipse cx="68.0" cy="590.4" rx="1.6" ry="1.1" stroke-width="0.78" fill="#fff"/>
<path d="M 67.6 603.1 L 67.6 618.8" stroke-width="2.08" fill="none" />
<path d="M 53.2 645.6 L 53.2 619.4 L 82.5 619.4 L 82.5 652.9" stroke-width="1.95" fill="none" />
<path d="M 59.9 634.8 Q 60.8 631.2 68.0 630.8 Q 75.2 631.2 76.1 634.8 L 93.3 635.7 L 93.3 654.7 L 87.9 658.3 L 87.5 670.1 L 78.9 671.0 L 75.2 666.4 L 74.3 672.8 Q 67.1 678.2 59.9 672.8 L 59.0 666.4 L 49.0 666.4 L 48.1 655.6 L 57.1 650.2 Z" stroke-width="2.34" fill="#fff" />
<path d="M 76.1 634.8 L 93.3 635.7 L 93.3 654.7 L 87.9 658.3 L 87.5 670.1 L 78.9 671.0 L 76.1 663.7 Z" stroke-width="1.30" fill="#000" />
<path d="M 78.0 643.8 L 84.3 643.8 L 85.2 653.8 L 78.5 656.5 Z" stroke-width="1.04" fill="#fff" />
<path d="M 80.3 661.9 L 85.2 661.9 L 85.2 667.3 L 80.3 667.3 Z" stroke-width="1.04" fill="#fff" />
<path d="M 59.9 635.7 L 59.9 662.8 M 75.2 635.7 L 75.2 662.8 M 63.5 636.6 L 63.5 661.9" stroke-width="2.08" fill="none" />
<ellipse cx="67.6" cy="636.6" rx="7.6" ry="2.2" stroke-width="1.95" fill="none"/>
<path d="M 59.0 666.4 Q 67.1 660.1 74.9 666.4" stroke-width="1.95" fill="none" />
<path d="M 59.9 672.8 Q 67.1 678.2 74.3 672.8 L 74.3 675.5 L 60.8 675.5 Z" stroke-width="1.30" fill="#000" />
<path d="M 48.1 655.6 L 57.1 651.1 L 57.1 663.7 L 49.0 666.4 Z" stroke-width="2.60" fill="#fff" />
<path d="M 50.3 657.4 L 55.0 655.6 L 55.0 661.9 L 50.6 663.4 Z" stroke-width="1.56" fill="none" />
<path d="M 198.0 643.0 L 207.6 643.0 L 265.0 665.6 Q 269.0 667.0 272.4 664.4 L 298.0 643.0 Q 302.0 639.6 311.0 637.2" stroke="#000" stroke-width="4.3" fill="none" stroke-linecap="butt"/>
<path d="M 198.0 643.0 L 207.6 643.0 L 265.0 665.6 Q 269.0 667.0 272.4 664.4 L 298.0 643.0 Q 302.0 639.6 311.0 637.2" stroke="#fff" stroke-width="1.7" fill="none" stroke-linecap="butt"/>
<path d="M 311.0 634.8 L 321.0 632.4 L 322.4 638.0 L 312.4 640.4 Z" stroke-width="1.95" fill="#fff" />
<path d="M 321.0 631.6 L 327.0 632.4 L 331.0 638.0 L 328.0 641.6 L 323.0 639.0 Z" stroke-width="1.30" fill="#000" />
<path d="M 330.0 640.0 L 348.0 652.4" stroke-width="1.82" fill="none" />
<path d="M 249.3 738.6 Q 316.4 754.3 392.9 720.0" stroke-width="1.82" fill="none" />
<path d="M 262.9 740.0 L 263.3 727.9 L 270.0 727.1 L 270.7 717.9 L 277.1 717.1 L 277.6 712.9 L 282.4 713.1 L 292.1 742.9 Z" stroke-width="1.95" fill="#fff" />
<path d="M 270.0 727.4 L 271.9 740.7 M 273.6 718.3 L 278.6 741.7 M 277.1 717.1 L 282.4 742.3 M 280.4 713.6 L 287.9 742.9 M 282.4 713.1 L 290.4 742.9" stroke-width="2.86" fill="none" />
<path d="M 282.4 713.1 Q 285.0 688.6 302.1 682.1 Q 313.6 679.3 325.0 682.9 L 336.4 694.3 L 336.4 700.0 L 292.1 702.9 L 287.9 714.3 Z" stroke-width="2.86" fill="#fff" />
<path d="M 287.9 702.9 Q 290.7 690.0 303.6 685.7 Q 313.6 683.6 322.9 686.4" stroke-width="5.20" fill="none" />
<path d="M 286.4 707.1 Q 287.9 691.4 302.1 684.3" stroke-width="1.95" fill="none" stroke-dasharray="2 2" stroke-linecap="butt" stroke="#fff"/>
<path d="M 292.1 702.9 L 336.4 697.1 M 290.7 700.0 L 335.0 695.0 M 310.0 682.9 L 310.7 696.4 M 313.6 682.6 L 315.0 695.7" stroke-width="2.86" fill="none" />
<path d="M 287.9 714.3 L 292.1 702.9 L 336.4 700.0 L 347.9 707.1 L 350.7 720.0 L 345.0 737.1 L 337.9 745.0 L 292.1 745.0 Z" stroke-width="1.30" fill="#000" />
<path d="M 293.6 708.6 L 299.3 707.9 L 299.3 720.0 L 294.3 720.7 Z" stroke-width="0.65" fill="#fff" />
<path d="M 330.7 704.3 L 337.9 703.6 L 338.6 711.4 L 332.1 712.1 Z" stroke-width="0.65" fill="#fff" />
<path d="M 294.3 725.7 L 298.6 725.0 L 299.0 731.4 L 294.7 732.1 Z" stroke-width="0.65" fill="#fff" />
<path d="M 337.9 717.1 L 343.6 715.7 L 345.0 724.3 L 339.3 725.7 Z" stroke-width="0.65" fill="#fff" />
<path d="M 338.6 731.4 L 345.0 729.3 L 343.6 737.1 L 339.3 738.6 Z" stroke-width="0.65" fill="#fff" />
<path d="M 302.1 724.3 Q 305.0 710.0 316.4 708.6 Q 329.3 709.3 333.6 722.9 L 336.4 742.9 L 301.4 743.6 Z" stroke-width="1.95" fill="#fff" />
<path d="M 310.0 715.7 L 323.6 714.3 L 319.3 721.4 L 312.1 722.9 Z" stroke-width="1.30" fill="#000" />
<path d="M 313.6 717.9 L 320.0 716.9" stroke-width="1.56" fill="none" stroke="#fff"/>
<ellipse cx="319.3" cy="738.6" rx="17.9" ry="8.9" stroke-width="4.5" fill="#fff" />
<ellipse cx="320.0" cy="740.0" rx="13.6" ry="5.7" stroke-width="1.6" fill="none" />
<path d="M 347.9 707.1 L 336.4 694.3 L 330.7 687.1 L 333.6 680.0 L 387.9 687.1 L 389.3 720.0 L 370.7 731.4 L 345.0 738.6 L 350.7 720.0 Z" stroke-width="1.95" fill="#fff" />
<path d="M 336.4 687.1 L 345.0 697.1 L 359.3 701.4 L 373.6 698.6 L 385.7 690.0" stroke-width="5.85" fill="none" />
<path d="M 345.0 707.1 L 359.3 710.0 L 373.6 705.7 L 386.4 698.6" stroke-width="3.25" fill="none" />
<path d="M 347.9 711.4 L 363.6 707.1 L 353.6 724.3 Z" stroke-width="2.86" fill="#fff" />
<path d="M 345.0 697.1 L 350.7 707.1 L 345.0 708.6 L 339.3 701.4 Z M 359.3 701.4 L 369.3 700.0 L 370.0 705.7 L 360.7 708.6 Z M 330.7 687.1 L 337.9 697.1 L 336.4 700.0 L 329.3 691.4 Z" stroke-width="1.30" fill="#000" />
<path d="M 355.0 725.7 L 363.6 732.9 M 359.3 723.6 L 367.9 730.7 M 363.6 721.4 L 372.1 727.9 M 368.6 718.6 L 376.4 725.0 M 373.6 715.7 L 380.0 722.1" stroke-width="3.90" fill="none" />
<path d="M 387.9 687.9 L 388.6 718.6 M 382.9 694.3 L 384.3 721.4 M 377.9 700.0 L 379.3 724.3 M 372.9 702.9 L 374.3 717.1" stroke-width="3.12" fill="none" />
<ellipse cx="359.3" cy="670.3" rx="28.9" ry="19.7" stroke-width="1" fill="#000" transform="rotate(3 359.3 670.3)" />
<ellipse cx="359.3" cy="667.9" rx="26.3" ry="16.0" stroke-width="1" fill="#fff" transform="rotate(3 359.3 667.9)" />
<ellipse cx="359.3" cy="667.1" rx="22.9" ry="13.4" stroke-width="4" fill="none" transform="rotate(3 359.3 667.1)" />
<ellipse cx="358.6" cy="664.0" rx="16.0" ry="9.4" stroke-width="1" fill="#000" transform="rotate(3 358.6 664.0)" />
<ellipse cx="358.6" cy="662.9" rx="12.3" ry="6.9" stroke-width="2.2" fill="none" transform="rotate(3 358.6 662.9)" stroke="#fff"/>
<path d="M 353.6 656.4 L 359.3 660.7 M 361.4 655.0 L 365.0 658.6" stroke-width="3.90" fill="none" stroke="#fff"/>
<path d="M 351.4 665.7 Q 358.6 668.6 366.4 665.4" stroke-width="2.60" fill="none" stroke="#fff"/>
<path d="M 336.4 681.4 Q 345.0 689.3 359.3 690.0 Q 373.6 689.3 382.9 682.9" stroke-width="2.34" fill="none" stroke="#fff"/>
<path d="M 331.4 682.9 Q 342.1 696.4 359.3 697.1 Q 377.9 695.7 385.7 684.3" stroke-width="3.12" fill="none" />
<ellipse cx="197.2" cy="1042.6" rx="17.8" ry="24.8" stroke-width="2.08" fill="none" transform="rotate(-10 197.2 1042.6)"/>
<ellipse cx="197.2" cy="1042.6" rx="14.9" ry="21.8" stroke-width="1.95" fill="none" transform="rotate(-10 197.2 1042.6)"/>
<path d="M 324.4 937.9 Q 325.1 934.5 328.6 933.3 L 330.9 933.7 L 336.6 938.3 L 332.8 944.8 L 328.6 943.2 L 324.4 940.4 Z" stroke-width="2.21" fill="#fff" />
<path d="M 336.6 938.3 L 338.1 936.4 L 344.2 936.4 L 346.1 942.1 L 348.8 942.9 L 348.2 948.2 L 343.4 953.5 L 340.0 952.0 L 338.1 952.0 Q 333.5 953.5 331.6 950.5 Q 331.2 944.4 336.6 938.3 Z" stroke-width="2.21" fill="#fff" />
<path d="M 339.6 942.1 L 346.1 942.1 M 339.6 942.1 L 338.1 936.4 M 339.6 942.1 Q 335.8 945.9 337.3 951.2 M 341.1 945.9 L 340.8 952.4 M 341.1 945.9 L 344.6 942.9 M 335.8 942.1 Q 333.5 946.7 335.0 951.2" stroke-width="1.69" fill="none" />
<path d="M 305.7 973.2 Q 312.4 964.6 321.1 968.3 L 326.0 978.2 L 314.9 986.9 Z" stroke-width="2.08" fill="#fff" />
<path d="M 307.4 970.8 Q 313.6 964.1 321.6 969.0 L 326.5 978.4" stroke-width="4.16" fill="none" />
<path d="M 279.0 988.1 L 278.5 959.6 Q 279.0 953.4 286.4 949.2 L 293.8 944.8 Q 298.8 944.3 300.0 949.7 L 313.6 988.1 L 305.0 986.9 L 295.1 957.1 L 286.4 991.8 Z" stroke-width="2.86" fill="#fff" />
<path d="M 282.7 962.1 L 291.3 981.9 L 298.8 984.4 M 283.9 959.6 L 293.8 980.7" stroke-width="2.34" fill="none" />
<ellipse cx="287.9" cy="958.6" rx="3.0" ry="3.5" stroke-width="1.95" fill="none" transform="rotate(20 287.9 958.6)"/>
<ellipse cx="287.9" cy="958.6" rx="1.5" ry="1.7" stroke-width="1.30" fill="none" transform="rotate(20 287.9 958.6)"/>
<path d="M 317.4 990.6 L 363.2 968.3 L 376.8 978.2 L 375.5 984.9 L 328.5 1003.0 L 318.6 999.2 Z" stroke-width="2.08" fill="#fff" />
<path d="M 316.1 988.1 L 346.3 971.5 L 348.8 976.5 L 321.6 992.3 M 328.5 994.3 L 349.5 986.9" stroke-width="2.08" fill="none" />
<path d="M 328.5 993.1 L 348.3 986.4" stroke-width="3.90" fill="none" />
<ellipse cx="369.4" cy="976.0" rx="6.7" ry="8.9" stroke-width="2.34" fill="#fff" transform="rotate(-20 369.4 976.0)"/>
<ellipse cx="369.4" cy="976.0" rx="4.2" ry="6.4" stroke-width="1.69" fill="none" transform="rotate(-20 369.4 976.0)"/>
<path d="M 361.9 1005.4 L 394.1 1002.2 L 394.1 1017.1 L 375.5 1019.1 Z" stroke-width="1.95" fill="#fff" />
<path d="M 394.1 1003.0 L 418.4 1003.0 L 418.9 1015.3 L 394.1 1016.6 Z" stroke-width="2.08" fill="#fff" />
<path d="M 408.2 1003.0 L 418.4 1003.0 L 418.9 1015.3 L 408.2 1016.1 Z" stroke-width="1.30" fill="#000" />
<path d="M 394.1 1000.5 L 394.1 1018.6" stroke-width="2.86" fill="none" />
<path d="M 295.1 1027.0 L 305.0 1055.0 Q 311.2 1058.2 317.4 1052.5 L 308.7 1025.3 Z" stroke-width="2.08" fill="#fff" />
<path d="M 305.0 1052.5 Q 311.2 1056.2 317.4 1051.3 L 317.8 1055.0 Q 311.7 1058.7 305.7 1056.2 Z" stroke-width="1.30" fill="#000" />
<path d="M 298.8 1029.0 L 307.4 1053.7" stroke-width="1.69" fill="none" />
<path d="M 249.2 994.3 L 274.0 989.8 L 281.4 988.4 Q 303.7 990.6 318.6 999.2 L 353.3 1004.7 L 363.2 1006.7 L 390.4 1020.3 L 380.5 1059.9 L 358.2 1048.8 L 343.4 1038.4 Q 318.6 1027.7 293.8 1025.3 L 259.2 1031.9 Z" stroke-width="2.08" fill="#fff" />
<path d="M 274.0 989.8 L 279.0 988.1 M 254.2 991.8 L 276.5 994.3 L 298.8 986.9" stroke-width="1.69" fill="none" />
<path d="M 264.1 988.1 L 267.8 987.4 L 279.0 992.3 L 276.5 996.8 L 265.3 994.3 Z" stroke-width="1.30" fill="#000" />
<path d="M 260.4 1023.5 L 267.1 1022.0 L 268.6 1029.0 L 261.6 1031.9 Z" stroke-width="1.30" fill="#000" />
<path d="M 318.6 999.2 L 321.1 1001.7" stroke-width="3.90" fill="none" />
<ellipse cx="244.3" cy="1017.8" rx="12.4" ry="22.8" stroke-width="1.95" fill="#000" transform="rotate(-8 244.3 1017.8)"/>
<ellipse cx="236.9" cy="1020.3" rx="15.4" ry="22.8" stroke-width="2.86" fill="#fff" transform="rotate(-8 236.9 1020.3)"/>
<ellipse cx="236.9" cy="1021.0" rx="12.4" ry="19.3" stroke-width="2.34" fill="none" transform="rotate(-8 236.9 1021.0)"/>
<path d="M 233.2 1036.4 L 244.3 1032.7" stroke-width="1.69" fill="none" />
<path d="M 247.3 993.1 L 249.7 991.8 L 252.2 994.3 M 249.7 994.3 L 257.2 1015.3" stroke-width="1.95" fill="none" />
<ellipse cx="352.8" cy="1027.0" rx="11.1" ry="19.3" stroke-width="2.21" fill="#fff" transform="rotate(12 352.8 1027.0)"/>
<path d="M 357.0 1007.9 L 390.4 1020.3 L 380.5 1059.9 L 354.5 1047.5 Z" stroke-width="0.13" fill="#fff" stroke="none"/>
<path d="M 355.7 1007.9 L 389.2 1020.3 M 354.5 1046.8 L 379.3 1059.9 M 347.1 1024.0 Q 344.6 1036.4 350.8 1045.1" stroke-width="2.08" fill="none" />
<ellipse cx="384.2" cy="1040.6" rx="15.4" ry="19.8" stroke-width="2.86" fill="#fff" transform="rotate(15 384.2 1040.6)"/>
<ellipse cx="385.0" cy="1041.3" rx="12.4" ry="16.8" stroke-width="2.08" fill="none" transform="rotate(15 385.0 1041.3)"/>
<ellipse cx="376.8" cy="1038.4" rx="12.4" ry="19.8" stroke-width="1.69" fill="none" transform="rotate(14 376.8 1038.4)"/>
<path d="M 378.0 1055.0 L 387.9 1050.0" stroke-width="1.69" fill="none" />
<ellipse cx="359.5" cy="1007.2" rx="2.0" ry="2.2" stroke-width="1.69" fill="none"/>
<path d="M 311.5 1093.2 Q 312.9 1088.9 319.3 1088.2 Q 326.4 1087.5 327.8 1091.8 L 337.4 1122.1 Q 339.1 1126.4 337.9 1133.4 L 329.9 1168.7 L 317.2 1185.7 Q 314.4 1189.2 308.7 1187.1 Q 303.8 1184.2 304.9 1178.6 L 315.8 1163.1 L 323.3 1130.6 Q 323.8 1126.4 322.1 1122.1 Z" stroke-width="2.21" fill="#fff" />
<path d="M 312.9 1094.6 Q 319.3 1095.3 325.7 1090.4 M 316.5 1093.9 L 319.3 1089.6 M 305.9 1181.4 Q 309.4 1185.7 316.5 1184.9" stroke-width="1.69" fill="none" />
<path d="M 316.5 1139.1 L 320.7 1138.4" stroke-width="1.56" fill="none" />
<path d="M 307.3 1187.1 L 300.2 1196.7" stroke-width="1.69" fill="none" />
<ellipse cx="315.8" cy="1202.9" rx="0.6" ry="0.6" stroke-width="0.65" fill="#000"/>
<ellipse cx="312.2" cy="1073.4" rx="8.5" ry="7.3" stroke-width="2.86" fill="#fff"/>
<path d="M 305.2 1072.7 Q 312.2 1068.5 319.3 1072.7 M 306.6 1076.2 Q 313.6 1072.7 320.7 1074.1 M 308.7 1068.5 L 315.8 1079.8 M 313.6 1067.1 L 310.8 1079.8" stroke-width="2.08" fill="none" />
<path d="M 316.5 1071.3 L 327.8 1069.2 M 316.5 1074.1 L 324.9 1073.4 M 315.8 1081.2 L 317.2 1084.0" stroke-width="2.34" fill="none" />
<path d="M 275.5 1222.4 Q 276.9 1214.6 284.7 1213.2 Q 293.9 1213.9 295.3 1220.9 L 298.8 1226.6 L 292.5 1229.4 L 284.0 1231.5 L 277.6 1234.4 L 281.2 1228.7 Q 275.5 1226.6 275.5 1222.4 Z" stroke-width="1.56" fill="#000" />
<path d="M 282.6 1216.0 Q 287.5 1215.3 288.9 1220.2 M 288.9 1217.4 Q 293.2 1218.8 293.2 1223.8 L 288.2 1224.5 M 281.2 1219.5 L 286.8 1220.9" stroke-width="2.60" fill="none" stroke="#fff"/>
<path d="M 557.0 958.9 Q 553.6 965.7 555.3 971.4 Q 557.6 976.6 561.6 977.1 L 565.0 975.4 L 570.1 977.1 L 574.7 980.0 Q 581.6 977.1 584.4 972.0 L 586.1 965.1" stroke-width="1.95" fill="#fff" />
<path d="M 557.3 961.1 L 562.1 966.9 L 560.4 975.4 M 562.1 966.9 L 563.9 968.6" stroke-width="1.69" fill="none" />
<path d="M 557.9 954.9 Q 559.3 950.3 569.0 950.0 Q 579.3 950.9 585.6 957.7 Q 587.3 964.0 585.0 969.7 Q 581.6 974.3 577.0 975.4 L 572.4 976.6 M 557.9 954.9 Q 558.1 959.4 563.9 967.4 Q 567.9 972.0 571.9 972.0" stroke-width="3.12" fill="none" />
<path d="M 563.9 962.0 Q 570.7 961.1 577.0 964.0 L 580.4 966.9 L 573.6 968.6 M 563.9 962.0 L 562.1 962.9" stroke-width="2.34" fill="none" />
<path d="M 573.6 968.6 L 570.1 987.4 L 572.4 987.1 L 574.7 972.0 Z" stroke-width="1.56" fill="#000" />
<path d="M 587.3 965.7 L 595.9 965.4 L 597.6 968.0 L 595.9 972.0 L 592.4 972.3 L 587.3 971.1" stroke-width="2.86" fill="#fff" />
<path d="M 575.9 971.4 L 582.1 969.7 M 574.7 974.3 L 582.7 972.0 M 574.7 980.0 L 581.6 976.6" stroke-width="1.82" fill="none" />
<path d="M 458.0 1049.3 L 466.0 1046.4 L 472.9 1043.6 Q 475.7 1043.6 477.4 1044.7 L 482.0 1048.1 L 486.6 1053.9 Q 489.1 1060.7 488.9 1062.4 L 488.3 1067.6 L 484.3 1071.6 L 477.4 1072.7 L 475.1 1059.0 L 470.0 1052.7 L 462.6 1050.4 Z" stroke-width="1.56" fill="#fff" />
<path d="M 472.9 1076.1 L 475.1 1086.7 L 477.7 1087.1 L 487.7 1080.7 L 484.3 1072.1 L 477.4 1072.7 Z" stroke-width="2.08" fill="#fff" />
<path d="M 476.9 1077.4 L 480.3 1076.3 L 481.1 1079.1 L 478.0 1080.3 Z" stroke-width="1.43" fill="none" />
<path d="M 455.7 1052.1 Q 456.0 1051.0 462.6 1050.4 Q 467.1 1050.7 470.0 1052.7 Q 474.0 1056.7 475.1 1059.0 Q 477.4 1064.7 477.4 1067.0 L 477.4 1072.1 Q 475.7 1075.0 472.9 1076.1 Q 468.9 1077.6 467.1 1077.3 Q 463.7 1075.0 461.4 1072.1 L 456.3 1067.0 Q 455.3 1059.6 455.7 1052.1 Z" stroke-width="2.60" fill="#fff" />
<path d="M 460.3 1061.4 L 465.4 1058.5 L 467.1 1060.3 L 462.0 1063.7 Z" stroke-width="1.95" fill="none" />
<path d="M 463.7 1066.5 L 467.7 1064.3 L 475.1 1071.7 M 465.4 1068.1 L 471.7 1074.4 M 469.4 1056.8 L 475.1 1066.0 M 468.3 1053.9 L 468.9 1057.9" stroke-width="1.56" fill="none" />
<path d="M 549.6 999.0 L 546.0 1015.0 Q 542.0 1024.0 536.0 1028.4 L 528.0 1028.0 L 514.0 1027.6 L 490.0 1043.0 L 488.0 1058.0 L 500.0 1068.0 L 509.0 1066.0 L 524.0 1055.0 Q 530.0 1062.0 540.0 1060.0 Q 554.0 1054.0 568.0 1034.0 L 574.4 1018.0 L 578.4 1003.0 Z" stroke-width="2.08" fill="#fff" />
<path d="M 547.0 1010.0 Q 560.0 1020.0 575.6 1016.4 M 544.4 1019.6 Q 556.0 1030.0 571.0 1028.0 M 536.0 1028.4 Q 544.0 1034.0 544.0 1048.0 L 540.0 1060.0 M 528.0 1028.0 Q 540.0 1038.0 538.0 1050.0 M 524.0 1055.0 Q 530.0 1050.0 538.0 1050.0 M 526.0 1058.0 Q 532.0 1053.0 539.0 1053.6" stroke-width="1.69" fill="none" />
<ellipse cx="564.0" cy="1001.2" rx="14.0" ry="10.0" stroke-width="1.82" fill="#fff" transform="rotate(5 564.0 1001.2)"/>
<ellipse cx="564.0" cy="1001.0" rx="12.2" ry="8.6" stroke-width="1.43" fill="none" transform="rotate(5 564.0 1001.0)"/>
<ellipse cx="564.0" cy="1000.8" rx="10.0" ry="7.0" stroke-width="2.21" fill="none" transform="rotate(5 564.0 1000.8)"/>
<ellipse cx="498.4" cy="1055.6" rx="10.4" ry="14.4" stroke-width="1.69" fill="#fff" transform="rotate(-12 498.4 1055.6)"/>
<ellipse cx="498.2" cy="1055.8" rx="8.8" ry="12.6" stroke-width="1.43" fill="none" transform="rotate(-12 498.2 1055.8)"/>
<ellipse cx="498.0" cy="1056.0" rx="7.2" ry="10.8" stroke-width="2.34" fill="none" transform="rotate(-12 498.0 1056.0)"/>
<path d="M 500.0 1041.0 Q 510.0 1050.0 508.0 1067.0 M 507.0 1037.0 Q 517.0 1046.0 515.6 1063.0 M 517.0 1031.0 Q 527.0 1042.0 525.0 1055.0 M 494.0 1044.0 L 506.0 1036.0 L 520.0 1029.0" stroke-width="1.82" fill="none" />
<path d="M 507.0 1034.0 L 514.0 1031.0 L 516.0 1035.0 L 509.0 1039.0 Z" stroke-width="1.82" fill="none" />
<path d="M 569.1 1054.0 Q 571.4 1044.9 582.9 1044.9 L 589.7 1046.0 L 684.6 1078.0 Q 700.6 1078.0 710.9 1070.0 L 729.1 1059.3 Q 737.1 1057.4 742.9 1064.3 Q 747.4 1072.3 742.9 1078.0 L 721.1 1094.0 Q 702.9 1104.3 680.0 1101.3 L 609.1 1076.9 Q 611.4 1098.6 595.4 1118.0 L 571.4 1131.7 Q 562.3 1132.9 559.3 1123.7 Q 558.4 1114.6 565.7 1111.1 L 580.6 1102.0 Q 588.6 1091.7 588.6 1083.0 L 578.3 1071.1 Q 569.1 1062.0 569.1 1054.0 Z" stroke-width="2.21" fill="#fff" />
<path d="M 582.9 1045.5 Q 578.3 1055.1 582.9 1064.3 L 677.7 1096.7 Q 673.1 1087.1 684.6 1078.5 M 586.3 1052.9 L 680.0 1083.7 M 582.9 1064.3 L 600.0 1079.1 L 609.1 1076.9 M 588.6 1083.0 Q 593.1 1087.1 600.0 1079.1 M 684.6 1078.0 Q 675.4 1086.0 677.7 1098.6 M 710.9 1070.7 Q 718.9 1079.1 718.9 1094.0 M 726.9 1060.9 Q 736.0 1066.6 736.0 1081.4 M 732.6 1059.3 Q 740.6 1064.3 741.3 1078.5 M 578.3 1071.1 Q 588.6 1075.7 595.4 1074.6" stroke-width="1.69" fill="none" />
<path d="M 580.6 1102.0 Q 590.9 1107.7 594.3 1118.0 M 573.7 1105.9 Q 582.9 1113.4 585.1 1123.3 M 569.1 1108.9 Q 577.1 1116.9 578.3 1127.1" stroke-width="1.69" fill="none" />
<ellipse cx="566.9" cy="1121.9" rx="7.3" ry="10.1" stroke-width="2.08" fill="#fff" transform="rotate(-25 566.9 1121.9)"/>
<ellipse cx="566.9" cy="1121.9" rx="4.8" ry="7.1" stroke-width="1.82" fill="none" transform="rotate(-25 566.9 1121.9)"/>
<path d="M 531.4 1127.7 L 540.0 1122.3 Q 542.9 1122.1 544.6 1122.9 L 550.9 1127.7 Q 554.3 1134.0 554.9 1135.7 L 555.4 1140.9 L 550.9 1144.3 L 546.9 1145.4 L 544.0 1138.0 L 539.4 1131.7 L 534.3 1128.3 Z" stroke-width="1.56" fill="#fff" />
<path d="M 543.4 1152.3 L 546.9 1158.7 L 552.0 1155.1 L 556.6 1151.1 L 553.7 1146.6 L 546.9 1145.4 Z" stroke-width="1.56" fill="#000" />
<path d="M 548.0 1150.0 L 550.3 1148.3 L 551.1 1151.1 L 548.9 1152.6 Z M 552.9 1149.4 L 554.3 1151.1 L 553.1 1152.6 Z M 546.9 1154.3 L 548.6 1155.7 L 547.7 1156.6 Z" stroke-width="0.39" fill="#fff" />
<path d="M 528.6 1130.3 Q 528.9 1128.9 534.3 1128.3 Q 537.1 1129.4 539.4 1131.7 Q 542.9 1135.7 544.0 1138.0 Q 546.3 1143.1 546.3 1144.3 Q 546.0 1148.9 544.6 1150.0 Q 540.6 1151.1 538.9 1150.6 L 534.3 1147.1 L 530.3 1143.7 Q 528.3 1136.9 528.6 1130.3 Z" stroke-width="2.60" fill="#fff" />
<path d="M 533.7 1138.6 L 537.1 1136.9 L 538.4 1138.6 L 535.0 1140.9 Z" stroke-width="1.82" fill="none" />
<path d="M 536.6 1142.1 L 539.4 1140.9 L 544.0 1146.6 M 537.7 1143.7 L 541.7 1148.9 M 539.4 1134.0 L 544.0 1142.0" stroke-width="1.56" fill="none" />
<path d="M 581.7 886.9 L 571.9 929.7 Q 573.1 938.3 582.6 940.0 Q 592.9 940.0 596.6 931.4 L 595.4 900.6 L 586.9 887.7 Z" stroke-width="2.21" fill="#fff" />
<path d="M 572.3 931.4 Q 580.9 940.0 596.3 932.3" stroke-width="3.38" fill="none" />
<path d="M 634.0 882.6 L 662.3 870.6 Q 670.0 869.7 672.1 876.6 Q 671.7 882.6 666.6 885.5 L 646.0 895.4 L 639.1 893.7 Z" stroke-width="2.21" fill="#fff" />
<path d="M 662.3 870.6 Q 670.0 869.7 672.1 876.6 Q 671.7 882.6 666.6 885.5" stroke-width="3.90" fill="none" />
<path d="M 647.7 877.4 Q 652.9 881.7 653.7 891.1 M 651.1 875.7 Q 656.6 880.9 657.1 889.4" stroke-width="1.82" fill="none" />
<path d="M 580.0 873.4 L 614.9 912.5 L 619.4 907.9 L 628.6 899.9 L 638.9 898.6 L 642.3 897.4 L 609.1 858.0 L 604.6 854.6 L 584.0 868.9 Z" stroke-width="2.08" fill="#fff" />
<path d="M 584.0 878.0 L 616.2 910.2 M 590.9 875.7 L 618.5 907.9 M 600.0 867.7 L 628.6 899.9 M 605.7 859.9 L 638.9 898.6" stroke-width="1.82" fill="none" />
<path d="M 607.4 858.6 L 640.6 898.0" stroke-width="3.38" fill="none" />
<path d="M 608.6 860.3 L 640.0 897.4" stroke-width="1.04" fill="none" stroke-dasharray="5 3" stroke-linecap="butt" stroke="#fff"/>
<path d="M 588.6 894.0 L 594.3 904.3 L 595.4 929.4 M 586.3 898.6 L 592.6 908.9" stroke-width="1.95" fill="none" />
<path d="M 592.0 912.3 L 602.3 917.1 L 603.4 923.9 L 593.1 919.4 Z" stroke-width="1.30" fill="#000" />
<path d="M 593.7 914.6 L 601.7 918.6 M 593.7 916.6 L 602.1 920.9" stroke-width="1.04" fill="none" stroke="#fff"/>
<path d="M 602.3 917.1 L 619.4 928.3 M 595.4 921.4 L 608.0 930.0" stroke-width="1.82" fill="none" />
<path d="M 605.7 842.0 L 609.1 837.5 L 613.7 838.0 L 628.6 846.0 Q 630.6 848.9 629.9 852.3 L 629.0 855.8 L 624.0 858.6 L 617.1 863.1 L 608.0 857.4 L 604.6 854.6 Z" stroke-width="2.21" fill="#fff" />
<path d="M 605.7 842.0 L 610.3 853.4 L 624.0 847.1 M 610.3 853.4 L 608.0 857.4" stroke-width="1.82" fill="none" />
<ellipse cx="625.6" cy="852.9" rx="2.5" ry="4.1" stroke-width="2.08" fill="#000" transform="rotate(15 625.6 852.9)"/>
<ellipse cx="625.6" cy="852.9" rx="1.0" ry="2.3" stroke-width="0.39" fill="#fff" transform="rotate(15 625.6 852.9)"/>
<path d="M 578.3 851.7 L 586.3 840.5 L 593.1 836.9 L 597.7 837.3 L 605.7 842.0 L 604.6 854.6 L 594.3 850.6 Z" stroke-width="2.21" fill="#fff" />
<path d="M 580.6 851.1 L 588.0 841.4 M 582.9 851.7 L 589.9 842.3 M 586.3 840.5 L 594.3 850.6" stroke-width="1.69" fill="none" />
<path d="M 592.6 838.2 L 598.3 838.0 L 605.7 842.3 L 605.1 845.4 L 597.7 846.0 L 594.3 843.7 Z" stroke-width="1.30" fill="#000" />
<path d="M 597.1 840.9 L 602.3 840.3 L 602.9 842.6 L 598.3 843.1 Z" stroke-width="0.39" fill="#fff" />
<path d="M 572.0 854.6 L 578.3 851.7 L 594.3 850.6 L 604.6 854.6 L 604.6 859.9 L 584.0 868.9 L 580.0 873.7 L 572.6 871.4 Q 564.6 867.7 565.7 864.3 Q 566.3 859.7 572.0 854.6 Z" stroke-width="2.21" fill="#fff" />
<path d="M 572.0 854.6 L 587.4 861.4 L 604.6 854.6 M 587.4 861.4 L 583.4 868.9 M 566.9 861.1 L 580.6 867.1 L 580.0 873.7" stroke-width="1.82" fill="none" />
<ellipse cx="572.0" cy="867.5" rx="4.1" ry="2.7" stroke-width="2.86" fill="none" transform="rotate(25 572.0 867.5)"/>
<path d="M 569.1 866.6 L 574.9 868.9 M 570.9 865.4 L 573.1 870.0" stroke-width="1.56" fill="none" />
<ellipse cx="587.4" cy="870.7" rx="2.7" ry="4.1" stroke-width="2.34" fill="none" transform="rotate(30 587.4 870.7)"/>
<ellipse cx="587.4" cy="870.7" rx="1.1" ry="2.3" stroke-width="1.30" fill="none" transform="rotate(30 587.4 870.7)"/>
<path d="M 590.8 900.6 L 592.9 916.0 L 618.6 938.3 M 601.4 921.1 L 619.4 933.1" stroke-width="1.95" fill="none" />
<ellipse cx="643.4" cy="925.4" rx="19.2" ry="29.5" stroke-width="3.64" fill="#fff" transform="rotate(28 643.4 925.4)"/>
<ellipse cx="646.0" cy="926.6" rx="15.8" ry="25.7" stroke-width="2.60" fill="none" transform="rotate(28 646.0 926.6)"/>
<path d="M 618.6 924.6 Q 620.3 912.6 630.6 904.0 M 625.4 936.6 Q 627.1 922.9 639.1 910.9" stroke-width="1.95" fill="none" />
<path d="M 639.1 909.1 L 646.0 905.7 L 666.6 917.7 L 661.4 922.9 M 642.6 916.0 L 663.1 929.7 M 630.6 933.1 L 652.9 946.9 M 634.0 940.0 L 651.1 950.3 M 646.0 905.7 Q 659.7 900.6 666.6 909.1 L 666.6 917.7" stroke-width="3.12" fill="none" />
<path d="M 666.6 916.9 L 685.4 921.1 L 685.4 929.7 L 676.9 926.3 L 670.0 922.9" stroke-width="2.08" fill="#fff" />
<path d="M 662.3 922.9 L 699.2 938.3 Q 704.3 950.3 699.2 962.3 Q 692.3 974.3 680.3 971.2 L 652.9 955.4 Z" stroke-width="2.21" fill="#fff" />
<ellipse cx="659.7" cy="942.1" rx="7.2" ry="18.0" stroke-width="3.90" fill="none" transform="rotate(25 659.7 942.1)"/>
<path d="M 654.6 955.4 L 659.7 958.9 L 659.7 955.4" stroke-width="2.34" fill="none" />
<ellipse cx="689.2" cy="955.4" rx="12.3" ry="17.5" stroke-width="2.86" fill="#fff" transform="rotate(25 689.2 955.4)"/>
<ellipse cx="690.9" cy="956.1" rx="9.6" ry="15.1" stroke-width="1.95" fill="none" transform="rotate(25 690.9 956.1)"/>
<ellipse cx="682.0" cy="952.0" rx="10.6" ry="17.1" stroke-width="1.69" fill="none" transform="rotate(25 682.0 952.0)"/>
<path d="M 690.0 859.4 L 694.6 856.3 L 700.9 856.6 L 703.7 858.9 L 704.3 865.7 L 709.4 867.4 L 710.0 877.1 L 706.6 881.7 L 702.0 883.4" stroke-width="1.69" fill="#fff" />
<ellipse cx="689.7" cy="873.1" rx="9.7" ry="14.0" stroke-width="3.38" fill="#fff" transform="rotate(-12 689.7 873.1)"/>
<path d="M 690.0 864.0 Q 690.0 872.0 692.3 875.4 L 698.0 880.0 M 696.9 862.3 L 702.0 859.4 L 703.7 865.1 M 694.6 856.3 L 695.1 860.0" stroke-width="1.56" fill="none" />
<path d="M 698.6 866.9 L 704.3 866.0 L 709.4 867.4 L 714.6 864.6 L 713.4 863.4 L 707.7 865.7 L 700.9 865.7 Z" stroke-width="1.30" fill="#000" />
<path d="M 698.6 866.9 L 700.3 882.3 L 702.0 882.9 L 702.0 872.0 L 704.3 869.7 L 703.7 866.9 Z" stroke-width="1.30" fill="#000" />
<path d="M 701.1 874.3 L 702.0 874.3 L 702.1 877.7 L 701.3 878.0 Z" stroke-width="0.39" fill="#fff" />
<path d="M 706.6 869.7 L 707.1 876.6 M 708.9 870.9 L 709.1 876.6 M 704.3 880.0 L 706.6 877.7" stroke-width="2.08" fill="none" />
<path d="M 698.6 886.3 L 701.4 894.9 L 704.9 894.6 L 705.7 889.7 L 703.1 885.1 Z" stroke-width="2.60" fill="#fff" />
<path d="M 907.3 888.7 Q 908.7 884.7 914.0 885.5 L 950.0 902.0 L 963.3 920.7 L 966.0 952.7 Q 964.7 962.0 956.7 962.0 L 912.7 941.5 L 908.7 933.5 L 911.6 923.3 L 908.7 914.0 L 911.6 896.7 Z" stroke-width="2.08" fill="#fff" />
<path d="M 918.5 896.7 L 947.3 910.0 L 955.3 923.3 L 955.9 953.2 L 921.2 936.7 Z" stroke-width="2.34" fill="none" />
<path d="M 915.3 895.3 L 948.7 907.3 L 958.5 922.8 L 959.3 956.7 M 912.7 896.7 L 917.5 936.7 L 956.7 958.0" stroke-width="1.43" fill="none" />
<ellipse cx="910.5" cy="891.3" rx="1.9" ry="1.9" stroke-width="1.56" fill="none"/>
<ellipse cx="958.0" cy="919.3" rx="1.9" ry="1.9" stroke-width="1.56" fill="none"/>
<ellipse cx="960.1" cy="954.0" rx="1.9" ry="1.9" stroke-width="1.56" fill="none"/>
<ellipse cx="914.0" cy="938.0" rx="1.9" ry="1.9" stroke-width="1.56" fill="none"/>
<ellipse cx="914.0" cy="916.7" rx="1.9" ry="1.9" stroke-width="1.56" fill="none"/>
<path d="M 910.0 895.3 L 887.3 915.3 M 955.3 954.0 L 932.7 972.7 M 970.0 942.0 L 974.5 940.7 M 998.3 948.4 L 1004.9 944.9" stroke-width="1.82" fill="none" />
<path d="M 794.8 917.5 L 806.0 915.3 Q 808.7 917.5 807.3 920.7 L 796.7 924.7 Z" stroke-width="1.95" fill="#fff" />
<ellipse cx="794.0" cy="922.3" rx="3.7" ry="4.3" stroke-width="1.56" fill="#000" transform="rotate(-15 794.0 922.3)"/>
<path d="M 723.3 977.2 Q 724.7 972.7 735.3 971.3 L 759.3 972.7 L 759.3 986.0 L 739.3 987.3 L 725.5 993.2 Q 722.8 987.3 723.3 977.2 Z" stroke-width="2.21" fill="#fff" />
<ellipse cx="730.8" cy="983.6" rx="1.6" ry="3.2" stroke-width="1.82" fill="none" transform="rotate(15 730.8 983.6)"/>
<ellipse cx="742.0" cy="979.3" rx="3.2" ry="4.3" stroke-width="1.95" fill="none" transform="rotate(-20 742.0 979.3)"/>
<path d="M 823.3 907.9 Q 826.0 902.5 832.7 903.6 L 875.3 916.7 L 887.3 927.3 L 891.3 936.7 L 881.2 952.7 L 876.7 968.7 L 883.9 975.3 L 881.2 983.3 L 870.0 985.2 L 854.0 993.2 L 824.7 950.0 Z" stroke-width="2.34" fill="#fff" />
<path d="M 827.3 910.0 L 874.0 920.7 L 884.7 930.0 L 886.5 936.7 L 876.7 951.3 L 872.7 970.0" stroke-width="1.56" fill="none" />
<ellipse cx="829.5" cy="912.1" rx="2.1" ry="2.7" stroke-width="1.69" fill="none"/>
<ellipse cx="880.7" cy="936.1" rx="2.1" ry="2.7" stroke-width="1.69" fill="none"/>
<ellipse cx="874.0" cy="977.2" rx="2.1" ry="2.7" stroke-width="1.69" fill="none"/>
<path d="M 855.3 991.3 L 894.0 1002.0 Q 900.7 1006.0 898.0 1014.0 Q 894.0 1019.3 886.0 1016.7 L 855.3 1003.3 Z" stroke-width="2.21" fill="#fff" />
<ellipse cx="893.5" cy="1009.2" rx="4.8" ry="6.9" stroke-width="1.82" fill="none" transform="rotate(-15 893.5 1009.2)"/>
<path d="M 859.3 999.3 L 883.3 1008.7 L 884.7 1015.3" stroke-width="1.69" fill="none" />
<path d="M 760.7 963.3 Q 762.0 947.3 774.0 941.5 L 838.0 918.0 Q 859.3 915.3 872.7 923.3 L 875.3 939.3 L 859.3 987.3 L 848.7 995.9 L 814.0 1003.9 L 798.0 1003.3 L 771.3 994.0 Q 760.7 987.3 760.7 963.3 Z" stroke-width="2.34" fill="#fff" />
<path d="M 775.3 941.5 Q 763.3 947.3 762.0 966.0 Q 762.0 990.0 772.7 995.3" stroke-width="4.29" fill="none" />
<path d="M 778.5 941.5 Q 767.1 947.9 765.7 966.0 Q 765.7 988.7 775.3 995.9" stroke-width="2.34" fill="none" />
<path d="M 786.5 940.7 Q 774.5 946.8 773.2 967.1 Q 773.2 991.3 783.9 997.2" stroke-width="4.29" fill="none" />
<path d="M 789.7 940.7 Q 778.3 947.3 776.9 967.1 Q 776.9 990.0 786.5 997.7" stroke-width="2.34" fill="none" />
<path d="M 798.0 940.1 Q 786.0 946.3 784.7 968.1 Q 784.7 992.7 795.3 999.1" stroke-width="4.29" fill="none" />
<path d="M 801.2 940.1 Q 789.7 946.8 788.4 968.1 Q 788.4 991.3 798.0 999.6" stroke-width="2.34" fill="none" />
<path d="M 808.7 939.3 Q 796.7 945.7 795.3 969.2 Q 795.3 994.0 806.0 1000.9" stroke-width="4.29" fill="none" />
<path d="M 811.9 939.3 Q 800.4 946.3 799.1 969.2 Q 799.1 992.7 808.7 1001.5" stroke-width="2.34" fill="none" />
<path d="M 817.5 939.1 Q 805.5 945.2 804.1 970.3 Q 804.1 995.1 814.8 1002.5" stroke-width="4.29" fill="none" />
<path d="M 820.7 939.1 Q 809.2 945.7 807.9 970.3 Q 807.9 993.7 817.5 1003.1" stroke-width="2.34" fill="none" />
<path d="M 775.3 940.9 L 839.3 917.5" stroke-width="1.17" fill="none" />
<path d="M 780.4 942.8 L 844.4 918.5" stroke-width="1.17" fill="none" />
<path d="M 785.2 944.4 L 849.2 919.6" stroke-width="1.17" fill="none" />
<path d="M 790.0 946.3 L 854.0 920.9" stroke-width="1.17" fill="none" />
<path d="M 795.1 948.1 L 859.1 922.0" stroke-width="1.17" fill="none" />
<path d="M 800.1 950.0 L 864.1 923.1" stroke-width="1.17" fill="none" />
<path d="M 804.9 951.6 L 868.9 924.1" stroke-width="1.17" fill="none" />
<path d="M 776.7 939.9 L 840.7 915.9 M 870.0 923.3 L 873.2 939.9" stroke-width="2.08" fill="none" />
<path d="M 806.5 958.5 L 867.3 938.0 Q 872.1 939.9 871.3 944.7 L 859.9 987.3 L 849.2 995.3 L 814.5 1003.3 Q 803.9 998.0 802.8 987.3 L 802.0 976.7 Q 802.0 963.3 806.5 958.5 Z" stroke-width="3.90" fill="#fff" />
<path d="M 809.2 962.0 L 866.8 942.5 M 805.5 976.7 L 806.0 990.0 L 815.3 1000.1" stroke-width="1.56" fill="none" />
<path d="M 814.5 975.3 L 848.7 963.3 Q 854.0 964.7 851.9 969.2 L 818.0 982.0 Q 812.7 980.7 814.5 975.3 Z" stroke-width="3.12" fill="none" />
<path d="M 850.0 969.2 L 848.7 987.3" stroke-width="2.08" fill="none" />
<ellipse cx="829.5" cy="960.7" rx="1.9" ry="2.4" stroke-width="1.04" fill="#000" transform="rotate(10 829.5 960.7)"/>
<ellipse cx="847.3" cy="954.0" rx="1.9" ry="2.4" stroke-width="1.04" fill="#000" transform="rotate(10 847.3 954.0)"/>
<ellipse cx="860.7" cy="947.9" rx="1.9" ry="2.4" stroke-width="1.04" fill="#000" transform="rotate(10 860.7 947.9)"/>
<ellipse cx="859.3" cy="967.3" rx="1.9" ry="2.4" stroke-width="1.04" fill="#000" transform="rotate(10 859.3 967.3)"/>
<ellipse cx="840.7" cy="979.3" rx="1.9" ry="2.4" stroke-width="1.04" fill="#000" transform="rotate(10 840.7 979.3)"/>
<ellipse cx="826.0" cy="985.2" rx="1.9" ry="2.4" stroke-width="1.04" fill="#000" transform="rotate(10 826.0 985.2)"/>
<ellipse cx="810.0" cy="991.3" rx="1.9" ry="2.4" stroke-width="1.04" fill="#000" transform="rotate(10 810.0 991.3)"/>
<ellipse cx="810.8" cy="982.0" rx="1.9" ry="2.4" stroke-width="1.04" fill="#000" transform="rotate(10 810.8 982.0)"/>
<ellipse cx="851.3" cy="988.7" rx="1.9" ry="2.4" stroke-width="1.04" fill="#000" transform="rotate(10 851.3 988.7)"/>
<path d="M 816.7 1002.0 L 819.3 1011.3 L 827.3 1014.0 L 828.7 1003.3 M 820.7 999.3 L 822.0 1008.7" stroke-width="4.16" fill="none" />
<path d="M 835.3 999.3 Q 831.3 1008.7 835.3 1015.3 M 840.7 995.3 Q 837.5 1003.3 840.7 1011.3" stroke-width="4.42" fill="none" />
<path d="M 840.7 1006.5 L 858.0 1004.7 Q 863.3 1011.3 860.7 1019.3 L 843.3 1026.0 Z" stroke-width="2.34" fill="#fff" />
<ellipse cx="835.3" cy="1019.9" rx="6.9" ry="7.5" stroke-width="5.20" fill="#fff"/>
<ellipse cx="854.0" cy="995.3" rx="3.2" ry="3.7" stroke-width="2.86" fill="none"/>
<path d="M 756.4 1032.0 L 763.9 1026.6 Q 767.3 1026.0 770.1 1027.4 L 777.0 1034.3 Q 779.3 1038.3 779.3 1044.0 L 777.0 1046.9 L 772.4 1048.0 L 769.6 1041.7 L 764.4 1035.4 L 759.9 1032.6 Z" stroke-width="1.69" fill="#fff" />
<path d="M 767.9 1054.3 L 771.3 1062.6 L 780.4 1056.0 L 777.6 1050.9 L 771.9 1049.1 Z" stroke-width="2.60" fill="#fff" />
<path d="M 772.4 1053.1 L 775.3 1052.3 L 776.1 1054.9 L 773.6 1056.3 Z" stroke-width="1.56" fill="none" />
<path d="M 751.3 1036.6 Q 751.6 1033.1 756.4 1032.3 L 759.9 1032.6 Q 763.3 1034.3 764.4 1035.4 Q 768.4 1039.4 769.6 1041.7 Q 771.9 1046.3 771.9 1049.1 L 767.9 1054.3 L 762.1 1054.9 L 756.4 1052.0 Q 754.1 1048.6 752.1 1048.6 L 752.4 1046.3 Q 751.0 1041.7 751.3 1036.6 Z" stroke-width="2.60" fill="#fff" />
<path d="M 752.1 1046.9 L 752.7 1049.7 L 756.4 1052.0 L 762.1 1054.9 L 767.9 1054.3 L 770.1 1050.9 L 762.1 1052.0 L 756.4 1047.4 Z" stroke-width="1.30" fill="#000" />
<path d="M 755.9 1042.9 L 759.9 1040.6 L 761.6 1042.9 L 757.3 1045.4 Z" stroke-width="2.08" fill="none" />
<path d="M 759.9 1046.9 L 763.3 1045.1 L 769.0 1050.9 M 761.6 1048.6 L 766.7 1052.0 M 762.1 1036.6 L 769.0 1046.9 M 761.6 1036.0 L 762.1 1040.6" stroke-width="1.69" fill="none" />
<path d="M 761.6 1046.9 L 767.9 1051.1" stroke-width="1.56" fill="none" stroke="#fff"/>
<path d="M 728.0 841.0 L 755.0 832.4 Q 768.0 830.0 779.0 833.0 L 862.0 850.0 L 882.0 852.4 Q 896.0 856.0 899.0 868.0 Q 897.0 880.0 884.0 881.0 L 868.0 876.0 L 776.0 856.0 L 760.0 855.0 L 736.0 864.0 Q 722.0 864.0 721.0 852.0 Q 722.0 844.0 728.0 841.0 Z" stroke-width="2.21" fill="#fff" />
<path d="M 755.0 832.4 Q 764.0 844.0 760.0 855.0 M 779.0 833.0 Q 771.0 844.0 776.0 856.0 M 738.0 839.0 Q 745.0 850.0 742.0 861.0 M 743.0 837.6 Q 749.6 848.0 747.0 859.0 M 880.0 853.0 Q 887.0 862.0 884.0 874.0 M 868.0 876.0 Q 876.0 879.0 884.0 874.0 M 886.0 854.0 Q 894.0 864.0 890.0 879.0" stroke-width="1.69" fill="none" />
<ellipse cx="729.6" cy="852.4" rx="8.4" ry="11.0" stroke-width="1.95" fill="#fff" transform="rotate(-10 729.6 852.4)"/>
<ellipse cx="729.6" cy="852.4" rx="6.0" ry="8.4" stroke-width="1.82" fill="none" transform="rotate(-10 729.6 852.4)"/>
<ellipse cx="867.0" cy="860.0" rx="11.0" ry="11.6" stroke-width="1.95" fill="#fff" transform="rotate(-10 867.0 860.0)"/>
<ellipse cx="867.0" cy="860.0" rx="8.4" ry="9.2" stroke-width="1.82" fill="none" transform="rotate(-10 867.0 860.0)"/>
<path d="M 872.0 850.0 Q 880.0 858.0 877.0 870.0 M 875.6 850.4 Q 883.6 859.0 880.4 871.0" stroke-width="1.82" fill="none" />
<ellipse cx="859.1" cy="815.1" rx="11.3" ry="12.3" stroke-width="1.95" fill="#fff"/>
<ellipse cx="849.3" cy="814.7" rx="11.4" ry="13.3" stroke-width="3.12" fill="#fff"/>
<path d="M 855.1 805.0 Q 847.7 810.6 847.4 816.9 Q 847.7 823.7 850.0 826.6" stroke-width="1.69" fill="none" />
<path d="M 862.0 822.0 L 867.1 822.9 M 858.6 829.4 L 866.6 823.7" stroke-width="1.56" fill="none" />
<path d="M 838.6 822.0 L 846.6 822.0 L 848.9 826.6 L 857.4 829.4 L 862.0 830.0 L 865.4 835.7 L 865.7 839.7 L 862.6 839.7 L 855.7 836.3 L 854.0 832.9 L 843.7 830.0 L 838.6 826.6 Z" stroke-width="1.30" fill="#000" />
<path d="M 833.1 829.4 L 836.9 826.0 L 841.4 827.7 L 836.3 832.6 Z" stroke-width="1.30" fill="#000" />
<path d="M 836.3 830.6 L 840.0 828.6" stroke-width="1.30" fill="none" stroke="#fff"/>
<path d="M 858.0 835.1 L 863.7 835.7" stroke-width="1.56" fill="none" stroke="#fff"/>
<ellipse cx="842.3" cy="824.4" rx="0.5" ry="0.5" stroke-width="0.39" fill="#fff"/>
<ellipse cx="846.6" cy="825.4" rx="0.4" ry="0.4" stroke-width="0.39" fill="#fff"/>
<path d="M 445.2 838.1 L 448.1 830.5 L 452.4 826.2 L 458.1 826.2 L 459.5 830.5 L 463.8 832.4 L 463.8 839.5 L 458.1 846.7 L 453.8 845.2 L 449.0 845.7 L 445.7 842.9 Z" stroke-width="1.30" fill="#000" />
<path d="M 451.0 834.4 L 454.8 830.1 L 458.1 831.5 L 455.7 835.8 Z" stroke-width="0.26" fill="#fff" stroke="#fff"/>
<path d="M 450.0 836.3 L 453.8 836.8 L 453.8 842.9 L 449.0 841.9 Z" stroke-width="0.26" fill="#fff" stroke="#fff"/>
<path d="M 458.1 833.9 L 462.4 833.4 L 462.9 836.7 L 458.6 835.3 Z" stroke-width="0.26" fill="#fff" stroke="#fff"/>
<path d="M 459.0 836.8 L 460.5 836.8 L 458.6 841.4 L 457.9 840.5 Z" stroke-width="0.26" fill="#fff" stroke="#fff"/>
<path d="M 455.7 842.5 L 457.6 843.4 L 459.5 842.5 L 458.1 845.2 L 456.0 844.8 Z" stroke-width="0.26" fill="#fff" stroke="#fff"/>
<line x1="334.4" y1="37.0" x2="397.1" y2="40.5" stroke-width="1.76" />
<line x1="239.4" y1="196.4" x2="295.0" y2="198.8" stroke-width="1.76" />
<line x1="363.4" y1="417.1" x2="414.9" y2="427.1" stroke-width="1.76" />
<line x1="362.9" y1="462.0" x2="419.1" y2="463.7" stroke-width="1.76" />
<line x1="574.0" y1="350.0" x2="563.3" y2="421.7" stroke-width="1.76" />
<line x1="585.0" y1="350.0" x2="623.3" y2="404.0" stroke-width="1.76" />
<line x1="645.7" y1="518.3" x2="635.0" y2="491.7" stroke-width="1.76" />
<line x1="729.3" y1="415.7" x2="692.7" y2="450.7" stroke-width="1.76" />
<line x1="740.7" y1="415.7" x2="744.3" y2="462.3" stroke-width="1.76" />
<line x1="825.0" y1="561.7" x2="753.3" y2="567.3" stroke-width="1.76" />
<line x1="599.3" y1="533.3" x2="620.0" y2="556.0" stroke-width="1.76" />
<line x1="535.0" y1="523.3" x2="563.3" y2="542.3" stroke-width="1.76" />
<line x1="525.0" y1="566.7" x2="561.7" y2="576.7" stroke-width="1.76" />
<line x1="486.7" y1="606.7" x2="517.7" y2="604.3" stroke-width="1.76" />
<line x1="525.0" y1="644.0" x2="548.3" y2="634.3" stroke-width="1.76" />
<line x1="409.3" y1="831.0" x2="446.7" y2="835.7" stroke-width="1.76" />
<line x1="690.0" y1="828.3" x2="694.8" y2="856.5" stroke-width="1.76" />
<line x1="305.7" y1="600.5" x2="256.2" y2="657.6" stroke-width="1.76" />
<line x1="171.0" y1="569.0" x2="128.3" y2="624.0" stroke-width="1.76" />
<line x1="45.0" y1="595.7" x2="61.7" y2="597.3" stroke-width="1.76" />
<line x1="63.3" y1="678.3" x2="63.3" y2="711.7" stroke-width="1.76" />
<line x1="890.0" y1="780.0" x2="863.3" y2="805.0" stroke-width="1.76" />
<line x1="798.3" y1="797.3" x2="780.0" y2="830.7" stroke-width="1.76" />
<line x1="958.3" y1="876.7" x2="945.0" y2="896.7" stroke-width="1.76" />
<line x1="783.3" y1="900.0" x2="791.7" y2="918.3" stroke-width="1.76" />
<line x1="705.0" y1="915.0" x2="670.0" y2="921.7" stroke-width="1.76" />
<line x1="918.3" y1="996.0" x2="882.7" y2="985.0" stroke-width="1.76" />
<line x1="816.7" y1="1075.0" x2="778.3" y2="1051.7" stroke-width="1.76" />
<line x1="340.0" y1="896.7" x2="340.0" y2="934.0" stroke-width="1.76" />
<line x1="403.3" y1="970.5" x2="350.5" y2="1001.7" stroke-width="1.76" />
<line x1="481.7" y1="976.7" x2="456.7" y2="1051.7" stroke-width="1.76" />
<line x1="504.0" y1="958.3" x2="558.3" y2="953.3" stroke-width="1.76" />
<line x1="615.0" y1="1012.7" x2="576.7" y2="1018.3" stroke-width="1.76" />
<line x1="641.7" y1="1121.0" x2="595.0" y2="1118.3" stroke-width="1.76" />
<line x1="603.3" y1="1181.7" x2="551.7" y2="1155.0" stroke-width="1.76" />
<line x1="199.3" y1="1066.7" x2="199.3" y2="1098.3" stroke-width="1.76" />
<line x1="381.7" y1="1089.3" x2="321.7" y2="1075.0" stroke-width="1.76" />
<line x1="286.7" y1="1130.7" x2="321.7" y2="1130.7" stroke-width="1.76" />
<line x1="353.3" y1="1222.7" x2="296.7" y2="1225.0" stroke-width="1.76" />
<line x1="945.0" y1="868.3" x2="921.7" y2="886.7" stroke-width="1.76" />
<g filter="url(#gs)">
<text x="302.0" y="44.6" font-size="25">23</text>
<text x="206.1" y="204.7" font-size="25">24</text>
<text x="332.1" y="422.3" font-size="25">25</text>
<text x="330.1" y="469.1" font-size="25">26</text>
<text x="569.2" y="344.0" font-size="25">2</text>
<text x="730.6" y="412.3" font-size="25">1</text>
<rect x="730.90" y="409.30" width="5.4" height="4.3" fill="#fff" stroke="none"/>
<rect x="739.70" y="409.30" width="4.9" height="4.3" fill="#fff" stroke="none"/>
<text x="644.3" y="541.7" font-size="25">3</text>
<text x="829.4" y="570.0" font-size="25">4</text>
<text x="502.3" y="519.7" font-size="25">16</text>
<rect x="502.60" y="516.70" width="5.4" height="4.3" fill="#fff" stroke="none"/>
<rect x="511.40" y="516.70" width="4.9" height="4.3" fill="#fff" stroke="none"/>
<text x="574.2" y="527.7" font-size="25">21</text>
<rect x="588.40" y="524.70" width="5.4" height="4.3" fill="#fff" stroke="none"/>
<rect x="597.20" y="524.70" width="4.9" height="4.3" fill="#fff" stroke="none"/>
<text x="493.2" y="570.0" font-size="25">20</text>
<text x="454.6" y="617.7" font-size="25">19</text>
<rect x="454.90" y="614.70" width="5.4" height="4.3" fill="#fff" stroke="none"/>
<rect x="463.70" y="614.70" width="4.9" height="4.3" fill="#fff" stroke="none"/>
<text x="492.3" y="661.7" font-size="25">18</text>
<rect x="492.60" y="658.70" width="5.4" height="4.3" fill="#fff" stroke="none"/>
<rect x="501.40" y="658.70" width="4.9" height="4.3" fill="#fff" stroke="none"/>
<text x="166.9" y="562.3" font-size="25">27</text>
<text x="304.9" y="591.7" font-size="25">28</text>
<text x="13.0" y="600.7" font-size="25">30</text>
<text x="48.2" y="736.7" font-size="25">29</text>
<text x="377.5" y="836.7" font-size="25">22</text>
<text x="799.1" y="790.0" font-size="25">6</text>
<text x="895.8" y="775.0" font-size="25">5</text>
<text x="680.8" y="821.7" font-size="25">5</text>
<text x="959.9" y="870.0" font-size="25">7</text>
<text x="761.3" y="891.7" font-size="25">16</text>
<rect x="761.60" y="888.70" width="5.4" height="4.3" fill="#fff" stroke="none"/>
<rect x="770.40" y="888.70" width="4.9" height="4.3" fill="#fff" stroke="none"/>
<text x="707.3" y="919.3" font-size="25">17</text>
<rect x="707.60" y="916.30" width="5.4" height="4.3" fill="#fff" stroke="none"/>
<rect x="716.40" y="916.30" width="4.9" height="4.3" fill="#fff" stroke="none"/>
<text x="325.6" y="891.7" font-size="25">12</text>
<rect x="325.90" y="888.70" width="5.4" height="4.3" fill="#fff" stroke="none"/>
<rect x="334.70" y="888.70" width="4.9" height="4.3" fill="#fff" stroke="none"/>
<text x="407.3" y="967.3" font-size="25">13</text>
<rect x="407.60" y="964.30" width="5.4" height="4.3" fill="#fff" stroke="none"/>
<rect x="416.40" y="964.30" width="4.9" height="4.3" fill="#fff" stroke="none"/>
<text x="471.3" y="969.3" font-size="25">14</text>
<rect x="471.60" y="966.30" width="5.4" height="4.3" fill="#fff" stroke="none"/>
<rect x="480.40" y="966.30" width="4.9" height="4.3" fill="#fff" stroke="none"/>
<text x="618.0" y="1016.7" font-size="25">15</text>
<rect x="618.30" y="1013.70" width="5.4" height="4.3" fill="#fff" stroke="none"/>
<rect x="627.10" y="1013.70" width="4.9" height="4.3" fill="#fff" stroke="none"/>
<text x="921.8" y="1007.7" font-size="25">8</text>
<text x="820.8" y="1090.7" font-size="25">5</text>
<text x="645.8" y="1130.7" font-size="25">9</text>
<text x="606.4" y="1198.3" font-size="25">5</text>
<text x="384.1" y="1099.3" font-size="25">5</text>
<text x="183.3" y="1122.7" font-size="25">11</text>
<rect x="183.60" y="1119.70" width="5.4" height="4.3" fill="#fff" stroke="none"/>
<rect x="192.40" y="1119.70" width="4.9" height="4.3" fill="#fff" stroke="none"/>
<rect x="197.50" y="1119.70" width="5.4" height="4.3" fill="#fff" stroke="none"/>
<rect x="206.30" y="1119.70" width="4.9" height="4.3" fill="#fff" stroke="none"/>
<text x="253.3" y="1140.0" font-size="25">10</text>
<rect x="253.60" y="1137.00" width="5.4" height="4.3" fill="#fff" stroke="none"/>
<rect x="262.40" y="1137.00" width="4.9" height="4.3" fill="#fff" stroke="none"/>
<text x="357.4" y="1230.0" font-size="25">5</text>
</g>
</svg>
</body></html>
